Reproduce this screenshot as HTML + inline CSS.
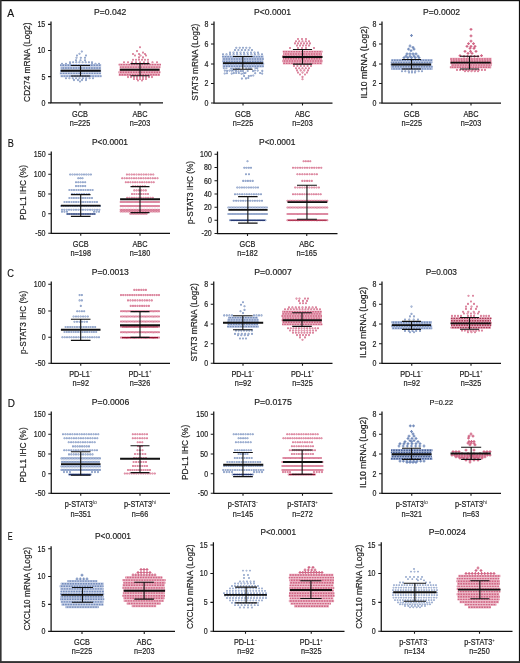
<!DOCTYPE html><html><head><meta charset="utf-8"><style>html,body{margin:0;padding:0;background:#fff;width:520px;height:663px;overflow:hidden}svg{display:block;will-change:transform;font-family:"Liberation Sans",sans-serif}</style></head><body><svg width="520" height="663" viewBox="0 0 520 663">
<rect x="0" y="0" width="520" height="1.2" fill="#111"/><rect x="0" y="0" width="1.6" height="663" fill="#333"/><rect x="518.9" y="0" width="1.1" height="663" fill="#111"/><rect x="0" y="661.1" width="520" height="1.9" fill="#333"/>
<text x="7.30" y="16.50" font-size="11.3" text-anchor="start" fill="#111" stroke="#111" stroke-width="0.15" textLength="6.9" lengthAdjust="spacingAndGlyphs">A</text>
<text x="7.80" y="146.70" font-size="11.3" text-anchor="start" fill="#111" stroke="#111" stroke-width="0.15" textLength="6.1" lengthAdjust="spacingAndGlyphs">B</text>
<text x="7.20" y="276.80" font-size="11.3" text-anchor="start" fill="#111" stroke="#111" stroke-width="0.15" textLength="6.7" lengthAdjust="spacingAndGlyphs">C</text>
<text x="7.80" y="406.70" font-size="11.3" text-anchor="start" fill="#111" stroke="#111" stroke-width="0.15" textLength="7.2" lengthAdjust="spacingAndGlyphs">D</text>
<text x="7.80" y="540.30" font-size="11.3" text-anchor="start" fill="#111" stroke="#111" stroke-width="0.15" textLength="4.9" lengthAdjust="spacingAndGlyphs">E</text>
<path d="M51.00 21.50V102.90H163.00" fill="none" stroke="#111" stroke-width="1.25"/>
<path d="M48.00 24.40H51.00M48.00 50.50H51.00M48.00 76.60H51.00M48.00 102.90H51.00M80.00 102.90V105.40M140.00 102.90V105.40" stroke="#1a1a1a" stroke-width="1.1"/>
<text transform="translate(45.30 27.30) scale(0.83 1)" font-size="8.5" text-anchor="end" fill="#1e1e1e" stroke="#1e1e1e" stroke-width="0.2">15</text>
<text transform="translate(45.30 53.40) scale(0.83 1)" font-size="8.5" text-anchor="end" fill="#1e1e1e" stroke="#1e1e1e" stroke-width="0.2">10</text>
<text transform="translate(45.30 79.50) scale(0.83 1)" font-size="8.5" text-anchor="end" fill="#1e1e1e" stroke="#1e1e1e" stroke-width="0.2">5</text>
<text transform="translate(45.30 105.80) scale(0.83 1)" font-size="8.5" text-anchor="end" fill="#1e1e1e" stroke="#1e1e1e" stroke-width="0.2">0</text>
<text font-size="9.2" text-anchor="middle" fill="#1e1e1e" stroke="#1e1e1e" stroke-width="0.2" textLength="79.4" lengthAdjust="spacingAndGlyphs" transform="translate(30.40 62.20) rotate(-90)">CD274 mRNA (Log2)</text>
<text x="110.15" y="14.50" font-size="9.0" text-anchor="middle" fill="#1e1e1e" stroke="#1e1e1e" stroke-width="0.2" textLength="32.3" lengthAdjust="spacingAndGlyphs">P=0.042</text>
<text transform="translate(80.00 117.00) scale(0.88 1)" font-size="8.3" text-anchor="middle" fill="#1e1e1e" stroke="#1e1e1e" stroke-width="0.2">GCB</text>
<text transform="translate(80.00 126.30) scale(0.88 1)" font-size="8.3" text-anchor="middle" fill="#1e1e1e" stroke="#1e1e1e" stroke-width="0.2">n=225</text>
<text transform="translate(140.00 117.00) scale(0.88 1)" font-size="8.3" text-anchor="middle" fill="#1e1e1e" stroke="#1e1e1e" stroke-width="0.2">ABC</text>
<text transform="translate(140.00 126.30) scale(0.88 1)" font-size="8.3" text-anchor="middle" fill="#1e1e1e" stroke="#1e1e1e" stroke-width="0.2">n=203</text>
<path d="M214.00 21.50V103.00H332.50" fill="none" stroke="#111" stroke-width="1.25"/>
<path d="M211.00 24.25H214.00M211.00 44.00H214.00M211.00 64.00H214.00M211.00 83.50H214.00M211.00 103.00H214.00M243.00 103.00V105.50M302.50 103.00V105.50" stroke="#1a1a1a" stroke-width="1.1"/>
<text transform="translate(208.30 27.15) scale(0.83 1)" font-size="8.5" text-anchor="end" fill="#1e1e1e" stroke="#1e1e1e" stroke-width="0.2">8</text>
<text transform="translate(208.30 46.90) scale(0.83 1)" font-size="8.5" text-anchor="end" fill="#1e1e1e" stroke="#1e1e1e" stroke-width="0.2">6</text>
<text transform="translate(208.30 66.90) scale(0.83 1)" font-size="8.5" text-anchor="end" fill="#1e1e1e" stroke="#1e1e1e" stroke-width="0.2">4</text>
<text transform="translate(208.30 86.40) scale(0.83 1)" font-size="8.5" text-anchor="end" fill="#1e1e1e" stroke="#1e1e1e" stroke-width="0.2">2</text>
<text transform="translate(208.30 105.90) scale(0.83 1)" font-size="8.5" text-anchor="end" fill="#1e1e1e" stroke="#1e1e1e" stroke-width="0.2">0</text>
<text font-size="9.2" text-anchor="middle" fill="#1e1e1e" stroke="#1e1e1e" stroke-width="0.2" textLength="77" lengthAdjust="spacingAndGlyphs" transform="translate(197.70 62.25) rotate(-90)">STAT3 mRNA (Log2)</text>
<text x="272.50" y="15.10" font-size="9.0" text-anchor="middle" fill="#1e1e1e" stroke="#1e1e1e" stroke-width="0.2" textLength="37.0" lengthAdjust="spacingAndGlyphs">P&lt;0.0001</text>
<text transform="translate(243.00 117.00) scale(0.88 1)" font-size="8.3" text-anchor="middle" fill="#1e1e1e" stroke="#1e1e1e" stroke-width="0.2">GCB</text>
<text transform="translate(243.00 126.30) scale(0.88 1)" font-size="8.3" text-anchor="middle" fill="#1e1e1e" stroke="#1e1e1e" stroke-width="0.2">n=225</text>
<text transform="translate(302.50 117.00) scale(0.88 1)" font-size="8.3" text-anchor="middle" fill="#1e1e1e" stroke="#1e1e1e" stroke-width="0.2">ABC</text>
<text transform="translate(302.50 126.30) scale(0.88 1)" font-size="8.3" text-anchor="middle" fill="#1e1e1e" stroke="#1e1e1e" stroke-width="0.2">n=203</text>
<path d="M382.00 21.50V103.00H501.00" fill="none" stroke="#111" stroke-width="1.25"/>
<path d="M379.00 24.25H382.00M379.00 44.00H382.00M379.00 64.00H382.00M379.00 83.50H382.00M379.00 103.00H382.00M411.75 103.00V105.50M471.00 103.00V105.50" stroke="#1a1a1a" stroke-width="1.1"/>
<text transform="translate(376.30 27.15) scale(0.83 1)" font-size="8.5" text-anchor="end" fill="#1e1e1e" stroke="#1e1e1e" stroke-width="0.2">8</text>
<text transform="translate(376.30 46.90) scale(0.83 1)" font-size="8.5" text-anchor="end" fill="#1e1e1e" stroke="#1e1e1e" stroke-width="0.2">6</text>
<text transform="translate(376.30 66.90) scale(0.83 1)" font-size="8.5" text-anchor="end" fill="#1e1e1e" stroke="#1e1e1e" stroke-width="0.2">4</text>
<text transform="translate(376.30 86.40) scale(0.83 1)" font-size="8.5" text-anchor="end" fill="#1e1e1e" stroke="#1e1e1e" stroke-width="0.2">2</text>
<text transform="translate(376.30 105.90) scale(0.83 1)" font-size="8.5" text-anchor="end" fill="#1e1e1e" stroke="#1e1e1e" stroke-width="0.2">0</text>
<text font-size="9.2" text-anchor="middle" fill="#1e1e1e" stroke="#1e1e1e" stroke-width="0.2" textLength="72.4" lengthAdjust="spacingAndGlyphs" transform="translate(366.70 62.25) rotate(-90)">IL10 mRNA (Log2)</text>
<text x="441.50" y="15.10" font-size="9.0" text-anchor="middle" fill="#1e1e1e" stroke="#1e1e1e" stroke-width="0.2" textLength="37.0" lengthAdjust="spacingAndGlyphs">P=0.0002</text>
<text transform="translate(411.75 117.00) scale(0.88 1)" font-size="8.3" text-anchor="middle" fill="#1e1e1e" stroke="#1e1e1e" stroke-width="0.2">GCB</text>
<text transform="translate(411.75 126.30) scale(0.88 1)" font-size="8.3" text-anchor="middle" fill="#1e1e1e" stroke="#1e1e1e" stroke-width="0.2">n=225</text>
<text transform="translate(471.00 117.00) scale(0.88 1)" font-size="8.3" text-anchor="middle" fill="#1e1e1e" stroke="#1e1e1e" stroke-width="0.2">ABC</text>
<text transform="translate(471.00 126.30) scale(0.88 1)" font-size="8.3" text-anchor="middle" fill="#1e1e1e" stroke="#1e1e1e" stroke-width="0.2">n=203</text>
<path d="M51.25 151.50V233.25H170.00" fill="none" stroke="#111" stroke-width="1.25"/>
<path d="M48.25 154.25H51.25M48.25 174.25H51.25M48.25 194.00H51.25M48.25 213.75H51.25M48.25 233.25H51.25M80.75 233.25V235.75M140.00 233.25V235.75" stroke="#1a1a1a" stroke-width="1.1"/>
<text transform="translate(45.55 157.15) scale(0.83 1)" font-size="8.5" text-anchor="end" fill="#1e1e1e" stroke="#1e1e1e" stroke-width="0.2">150</text>
<text transform="translate(45.55 177.15) scale(0.83 1)" font-size="8.5" text-anchor="end" fill="#1e1e1e" stroke="#1e1e1e" stroke-width="0.2">100</text>
<text transform="translate(45.55 196.90) scale(0.83 1)" font-size="8.5" text-anchor="end" fill="#1e1e1e" stroke="#1e1e1e" stroke-width="0.2">50</text>
<text transform="translate(45.55 216.65) scale(0.83 1)" font-size="8.5" text-anchor="end" fill="#1e1e1e" stroke="#1e1e1e" stroke-width="0.2">0</text>
<text transform="translate(45.55 236.15) scale(0.83 1)" font-size="8.5" text-anchor="end" fill="#1e1e1e" stroke="#1e1e1e" stroke-width="0.2">-50</text>
<text font-size="9.2" text-anchor="middle" fill="#1e1e1e" stroke="#1e1e1e" stroke-width="0.2" textLength="55" lengthAdjust="spacingAndGlyphs" transform="translate(25.60 192.38) rotate(-90)">PD-L1 IHC (%)</text>
<text x="110.00" y="144.85" font-size="9.0" text-anchor="middle" fill="#1e1e1e" stroke="#1e1e1e" stroke-width="0.2" textLength="36.0" lengthAdjust="spacingAndGlyphs">P&lt;0.0001</text>
<text transform="translate(80.75 246.75) scale(0.88 1)" font-size="8.3" text-anchor="middle" fill="#1e1e1e" stroke="#1e1e1e" stroke-width="0.2">GCB</text>
<text transform="translate(80.75 256.30) scale(0.88 1)" font-size="8.3" text-anchor="middle" fill="#1e1e1e" stroke="#1e1e1e" stroke-width="0.2">n=198</text>
<text transform="translate(140.00 246.75) scale(0.88 1)" font-size="8.3" text-anchor="middle" fill="#1e1e1e" stroke="#1e1e1e" stroke-width="0.2">ABC</text>
<text transform="translate(140.00 256.30) scale(0.88 1)" font-size="8.3" text-anchor="middle" fill="#1e1e1e" stroke="#1e1e1e" stroke-width="0.2">n=180</text>
<path d="M217.50 151.50V233.50H337.50" fill="none" stroke="#111" stroke-width="1.25"/>
<path d="M214.50 154.25H217.50M214.50 167.50H217.50M214.50 180.75H217.50M214.50 194.00H217.50M214.50 207.25H217.50M214.50 220.25H217.50M214.50 233.50H217.50M247.50 233.50V236.00M306.75 233.50V236.00" stroke="#1a1a1a" stroke-width="1.1"/>
<text transform="translate(211.80 157.15) scale(0.83 1)" font-size="8.5" text-anchor="end" fill="#1e1e1e" stroke="#1e1e1e" stroke-width="0.2">100</text>
<text transform="translate(211.80 170.40) scale(0.83 1)" font-size="8.5" text-anchor="end" fill="#1e1e1e" stroke="#1e1e1e" stroke-width="0.2">80</text>
<text transform="translate(211.80 183.65) scale(0.83 1)" font-size="8.5" text-anchor="end" fill="#1e1e1e" stroke="#1e1e1e" stroke-width="0.2">60</text>
<text transform="translate(211.80 196.90) scale(0.83 1)" font-size="8.5" text-anchor="end" fill="#1e1e1e" stroke="#1e1e1e" stroke-width="0.2">40</text>
<text transform="translate(211.80 210.15) scale(0.83 1)" font-size="8.5" text-anchor="end" fill="#1e1e1e" stroke="#1e1e1e" stroke-width="0.2">20</text>
<text transform="translate(211.80 223.15) scale(0.83 1)" font-size="8.5" text-anchor="end" fill="#1e1e1e" stroke="#1e1e1e" stroke-width="0.2">0</text>
<text transform="translate(211.80 236.40) scale(0.83 1)" font-size="8.5" text-anchor="end" fill="#1e1e1e" stroke="#1e1e1e" stroke-width="0.2">-20</text>
<text font-size="9.2" text-anchor="middle" fill="#1e1e1e" stroke="#1e1e1e" stroke-width="0.2" textLength="63" lengthAdjust="spacingAndGlyphs" transform="translate(193.00 192.50) rotate(-90)">p-STAT3 IHC (%)</text>
<text x="277.25" y="144.85" font-size="9.0" text-anchor="middle" fill="#1e1e1e" stroke="#1e1e1e" stroke-width="0.2" textLength="36.5" lengthAdjust="spacingAndGlyphs">P&lt;0.0001</text>
<text transform="translate(247.50 246.75) scale(0.88 1)" font-size="8.3" text-anchor="middle" fill="#1e1e1e" stroke="#1e1e1e" stroke-width="0.2">GCB</text>
<text transform="translate(247.50 256.30) scale(0.88 1)" font-size="8.3" text-anchor="middle" fill="#1e1e1e" stroke="#1e1e1e" stroke-width="0.2">n=182</text>
<text transform="translate(306.75 246.75) scale(0.88 1)" font-size="8.3" text-anchor="middle" fill="#1e1e1e" stroke="#1e1e1e" stroke-width="0.2">ABC</text>
<text transform="translate(306.75 256.30) scale(0.88 1)" font-size="8.3" text-anchor="middle" fill="#1e1e1e" stroke="#1e1e1e" stroke-width="0.2">n=165</text>
<path d="M51.25 281.50V363.25H170.00" fill="none" stroke="#111" stroke-width="1.25"/>
<path d="M48.25 284.25H51.25M48.25 311.00H51.25M48.25 337.25H51.25M48.25 363.25H51.25M80.75 363.25V365.75M140.00 363.25V365.75" stroke="#1a1a1a" stroke-width="1.1"/>
<text transform="translate(45.55 287.15) scale(0.83 1)" font-size="8.5" text-anchor="end" fill="#1e1e1e" stroke="#1e1e1e" stroke-width="0.2">100</text>
<text transform="translate(45.55 313.90) scale(0.83 1)" font-size="8.5" text-anchor="end" fill="#1e1e1e" stroke="#1e1e1e" stroke-width="0.2">50</text>
<text transform="translate(45.55 340.15) scale(0.83 1)" font-size="8.5" text-anchor="end" fill="#1e1e1e" stroke="#1e1e1e" stroke-width="0.2">0</text>
<text transform="translate(45.55 366.15) scale(0.83 1)" font-size="8.5" text-anchor="end" fill="#1e1e1e" stroke="#1e1e1e" stroke-width="0.2">-50</text>
<text font-size="9.2" text-anchor="middle" fill="#1e1e1e" stroke="#1e1e1e" stroke-width="0.2" textLength="63.2" lengthAdjust="spacingAndGlyphs" transform="translate(26.20 322.38) rotate(-90)">p-STAT3 IHC (%)</text>
<text x="110.25" y="275.10" font-size="9.0" text-anchor="middle" fill="#1e1e1e" stroke="#1e1e1e" stroke-width="0.2" textLength="37.0" lengthAdjust="spacingAndGlyphs">P=0.0013</text>
<text transform="translate(80.75 376.75) scale(0.88 1)" font-size="8.3" text-anchor="middle" fill="#1e1e1e" stroke="#1e1e1e" stroke-width="0.2">PD-L1<tspan font-size="4.8" dy="-3.4" stroke-width="0">−</tspan></text>
<text transform="translate(80.75 386.30) scale(0.88 1)" font-size="8.3" text-anchor="middle" fill="#1e1e1e" stroke="#1e1e1e" stroke-width="0.2">n=92</text>
<text transform="translate(140.00 376.75) scale(0.88 1)" font-size="8.3" text-anchor="middle" fill="#1e1e1e" stroke="#1e1e1e" stroke-width="0.2">PD-L1<tspan font-size="4.8" dy="-3.4" stroke-width="0">+</tspan></text>
<text transform="translate(140.00 386.30) scale(0.88 1)" font-size="8.3" text-anchor="middle" fill="#1e1e1e" stroke="#1e1e1e" stroke-width="0.2">n=326</text>
<path d="M213.75 281.50V363.25H332.50" fill="none" stroke="#111" stroke-width="1.25"/>
<path d="M210.75 284.25H213.75M210.75 304.25H213.75M210.75 324.00H213.75M210.75 343.75H213.75M210.75 363.25H213.75M243.00 363.25V365.75M302.50 363.25V365.75" stroke="#1a1a1a" stroke-width="1.1"/>
<text transform="translate(208.05 287.15) scale(0.83 1)" font-size="8.5" text-anchor="end" fill="#1e1e1e" stroke="#1e1e1e" stroke-width="0.2">8</text>
<text transform="translate(208.05 307.15) scale(0.83 1)" font-size="8.5" text-anchor="end" fill="#1e1e1e" stroke="#1e1e1e" stroke-width="0.2">6</text>
<text transform="translate(208.05 326.90) scale(0.83 1)" font-size="8.5" text-anchor="end" fill="#1e1e1e" stroke="#1e1e1e" stroke-width="0.2">4</text>
<text transform="translate(208.05 346.65) scale(0.83 1)" font-size="8.5" text-anchor="end" fill="#1e1e1e" stroke="#1e1e1e" stroke-width="0.2">2</text>
<text transform="translate(208.05 366.15) scale(0.83 1)" font-size="8.5" text-anchor="end" fill="#1e1e1e" stroke="#1e1e1e" stroke-width="0.2">0</text>
<text font-size="9.2" text-anchor="middle" fill="#1e1e1e" stroke="#1e1e1e" stroke-width="0.2" textLength="78.2" lengthAdjust="spacingAndGlyphs" transform="translate(196.80 322.38) rotate(-90)">STAT3 mRNA (Log2)</text>
<text x="273.00" y="275.10" font-size="9.0" text-anchor="middle" fill="#1e1e1e" stroke="#1e1e1e" stroke-width="0.2" textLength="37.5" lengthAdjust="spacingAndGlyphs">P=0.0007</text>
<text transform="translate(243.00 376.75) scale(0.88 1)" font-size="8.3" text-anchor="middle" fill="#1e1e1e" stroke="#1e1e1e" stroke-width="0.2">PD-L1<tspan font-size="4.8" dy="-3.4" stroke-width="0">−</tspan></text>
<text transform="translate(243.00 386.30) scale(0.88 1)" font-size="8.3" text-anchor="middle" fill="#1e1e1e" stroke="#1e1e1e" stroke-width="0.2">n=92</text>
<text transform="translate(302.50 376.75) scale(0.88 1)" font-size="8.3" text-anchor="middle" fill="#1e1e1e" stroke="#1e1e1e" stroke-width="0.2">PD-L1<tspan font-size="4.8" dy="-3.4" stroke-width="0">+</tspan></text>
<text transform="translate(302.50 386.30) scale(0.88 1)" font-size="8.3" text-anchor="middle" fill="#1e1e1e" stroke="#1e1e1e" stroke-width="0.2">n=325</text>
<path d="M382.00 281.50V363.25H501.00" fill="none" stroke="#111" stroke-width="1.25"/>
<path d="M379.00 284.25H382.00M379.00 304.25H382.00M379.00 324.00H382.00M379.00 343.75H382.00M379.00 363.25H382.00M411.75 363.25V365.75M471.00 363.25V365.75" stroke="#1a1a1a" stroke-width="1.1"/>
<text transform="translate(376.30 287.15) scale(0.83 1)" font-size="8.5" text-anchor="end" fill="#1e1e1e" stroke="#1e1e1e" stroke-width="0.2">8</text>
<text transform="translate(376.30 307.15) scale(0.83 1)" font-size="8.5" text-anchor="end" fill="#1e1e1e" stroke="#1e1e1e" stroke-width="0.2">6</text>
<text transform="translate(376.30 326.90) scale(0.83 1)" font-size="8.5" text-anchor="end" fill="#1e1e1e" stroke="#1e1e1e" stroke-width="0.2">4</text>
<text transform="translate(376.30 346.65) scale(0.83 1)" font-size="8.5" text-anchor="end" fill="#1e1e1e" stroke="#1e1e1e" stroke-width="0.2">2</text>
<text transform="translate(376.30 366.15) scale(0.83 1)" font-size="8.5" text-anchor="end" fill="#1e1e1e" stroke="#1e1e1e" stroke-width="0.2">0</text>
<text font-size="9.2" text-anchor="middle" fill="#1e1e1e" stroke="#1e1e1e" stroke-width="0.2" textLength="71.2" lengthAdjust="spacingAndGlyphs" transform="translate(366.20 322.38) rotate(-90)">IL10 mRNA (Log2)</text>
<text x="441.38" y="275.10" font-size="9.0" text-anchor="middle" fill="#1e1e1e" stroke="#1e1e1e" stroke-width="0.2" textLength="31.2" lengthAdjust="spacingAndGlyphs">P=0.003</text>
<text transform="translate(411.75 376.75) scale(0.88 1)" font-size="8.3" text-anchor="middle" fill="#1e1e1e" stroke="#1e1e1e" stroke-width="0.2">PD-L1<tspan font-size="4.8" dy="-3.4" stroke-width="0">−</tspan></text>
<text transform="translate(411.75 386.30) scale(0.88 1)" font-size="8.3" text-anchor="middle" fill="#1e1e1e" stroke="#1e1e1e" stroke-width="0.2">n=92</text>
<text transform="translate(471.00 376.75) scale(0.88 1)" font-size="8.3" text-anchor="middle" fill="#1e1e1e" stroke="#1e1e1e" stroke-width="0.2">PD-L1<tspan font-size="4.8" dy="-3.4" stroke-width="0">+</tspan></text>
<text transform="translate(471.00 386.30) scale(0.88 1)" font-size="8.3" text-anchor="middle" fill="#1e1e1e" stroke="#1e1e1e" stroke-width="0.2">n=325</text>
<path d="M51.25 411.50V493.25H170.00" fill="none" stroke="#111" stroke-width="1.25"/>
<path d="M48.25 414.25H51.25M48.25 434.25H51.25M48.25 454.00H51.25M48.25 473.75H51.25M48.25 493.25H51.25M80.75 493.25V495.75M140.00 493.25V495.75" stroke="#1a1a1a" stroke-width="1.1"/>
<text transform="translate(45.55 417.15) scale(0.83 1)" font-size="8.5" text-anchor="end" fill="#1e1e1e" stroke="#1e1e1e" stroke-width="0.2">150</text>
<text transform="translate(45.55 437.15) scale(0.83 1)" font-size="8.5" text-anchor="end" fill="#1e1e1e" stroke="#1e1e1e" stroke-width="0.2">100</text>
<text transform="translate(45.55 456.90) scale(0.83 1)" font-size="8.5" text-anchor="end" fill="#1e1e1e" stroke="#1e1e1e" stroke-width="0.2">50</text>
<text transform="translate(45.55 476.65) scale(0.83 1)" font-size="8.5" text-anchor="end" fill="#1e1e1e" stroke="#1e1e1e" stroke-width="0.2">0</text>
<text transform="translate(45.55 496.15) scale(0.83 1)" font-size="8.5" text-anchor="end" fill="#1e1e1e" stroke="#1e1e1e" stroke-width="0.2">-50</text>
<text font-size="9.2" text-anchor="middle" fill="#1e1e1e" stroke="#1e1e1e" stroke-width="0.2" textLength="55.1" lengthAdjust="spacingAndGlyphs" transform="translate(25.60 454.90) rotate(-90)">PD-L1 IHC (%)</text>
<text x="110.50" y="405.10" font-size="9.0" text-anchor="middle" fill="#1e1e1e" stroke="#1e1e1e" stroke-width="0.2" textLength="37.5" lengthAdjust="spacingAndGlyphs">P=0.0006</text>
<text transform="translate(80.75 507.00) scale(0.88 1)" font-size="8.3" text-anchor="middle" fill="#1e1e1e" stroke="#1e1e1e" stroke-width="0.2">p-STAT3<tspan font-size="5.8" dy="-3.0" stroke-width="0">lo</tspan></text>
<text transform="translate(80.75 516.80) scale(0.88 1)" font-size="8.3" text-anchor="middle" fill="#1e1e1e" stroke="#1e1e1e" stroke-width="0.2">n=351</text>
<text transform="translate(140.00 507.00) scale(0.88 1)" font-size="8.3" text-anchor="middle" fill="#1e1e1e" stroke="#1e1e1e" stroke-width="0.2">p-STAT3<tspan font-size="5.8" dy="-3.0" stroke-width="0">hi</tspan></text>
<text transform="translate(140.00 516.80) scale(0.88 1)" font-size="8.3" text-anchor="middle" fill="#1e1e1e" stroke="#1e1e1e" stroke-width="0.2">n=66</text>
<path d="M213.75 411.50V493.25H332.50" fill="none" stroke="#111" stroke-width="1.25"/>
<path d="M210.75 414.25H213.75M210.75 434.25H213.75M210.75 454.00H213.75M210.75 473.75H213.75M210.75 493.25H213.75M243.00 493.25V495.75M302.50 493.25V495.75" stroke="#1a1a1a" stroke-width="1.1"/>
<text transform="translate(208.05 417.15) scale(0.83 1)" font-size="8.5" text-anchor="end" fill="#1e1e1e" stroke="#1e1e1e" stroke-width="0.2">150</text>
<text transform="translate(208.05 437.15) scale(0.83 1)" font-size="8.5" text-anchor="end" fill="#1e1e1e" stroke="#1e1e1e" stroke-width="0.2">100</text>
<text transform="translate(208.05 456.90) scale(0.83 1)" font-size="8.5" text-anchor="end" fill="#1e1e1e" stroke="#1e1e1e" stroke-width="0.2">50</text>
<text transform="translate(208.05 476.65) scale(0.83 1)" font-size="8.5" text-anchor="end" fill="#1e1e1e" stroke="#1e1e1e" stroke-width="0.2">0</text>
<text transform="translate(208.05 496.15) scale(0.83 1)" font-size="8.5" text-anchor="end" fill="#1e1e1e" stroke="#1e1e1e" stroke-width="0.2">-50</text>
<text font-size="9.2" text-anchor="middle" fill="#1e1e1e" stroke="#1e1e1e" stroke-width="0.2" textLength="55.2" lengthAdjust="spacingAndGlyphs" transform="translate(188.00 452.38) rotate(-90)">PD-L1 IHC (%)</text>
<text x="273.00" y="405.10" font-size="9.0" text-anchor="middle" fill="#1e1e1e" stroke="#1e1e1e" stroke-width="0.2" textLength="37.5" lengthAdjust="spacingAndGlyphs">P=0.0175</text>
<text transform="translate(243.00 507.00) scale(0.88 1)" font-size="8.3" text-anchor="middle" fill="#1e1e1e" stroke="#1e1e1e" stroke-width="0.2">p-STAT3<tspan font-size="4.8" dy="-3.4" stroke-width="0">−</tspan></text>
<text transform="translate(243.00 516.80) scale(0.88 1)" font-size="8.3" text-anchor="middle" fill="#1e1e1e" stroke="#1e1e1e" stroke-width="0.2">n=145</text>
<text transform="translate(302.50 507.00) scale(0.88 1)" font-size="8.3" text-anchor="middle" fill="#1e1e1e" stroke="#1e1e1e" stroke-width="0.2">p-STAT3<tspan font-size="4.8" dy="-3.4" stroke-width="0">+</tspan></text>
<text transform="translate(302.50 516.80) scale(0.88 1)" font-size="8.3" text-anchor="middle" fill="#1e1e1e" stroke="#1e1e1e" stroke-width="0.2">n=272</text>
<path d="M382.00 411.50V493.25H501.00" fill="none" stroke="#111" stroke-width="1.25"/>
<path d="M379.00 414.25H382.00M379.00 434.25H382.00M379.00 454.00H382.00M379.00 473.75H382.00M379.00 493.25H382.00M411.75 493.25V495.75M471.00 493.25V495.75" stroke="#1a1a1a" stroke-width="1.1"/>
<text transform="translate(376.30 417.15) scale(0.83 1)" font-size="8.5" text-anchor="end" fill="#1e1e1e" stroke="#1e1e1e" stroke-width="0.2">8</text>
<text transform="translate(376.30 437.15) scale(0.83 1)" font-size="8.5" text-anchor="end" fill="#1e1e1e" stroke="#1e1e1e" stroke-width="0.2">6</text>
<text transform="translate(376.30 456.90) scale(0.83 1)" font-size="8.5" text-anchor="end" fill="#1e1e1e" stroke="#1e1e1e" stroke-width="0.2">4</text>
<text transform="translate(376.30 476.65) scale(0.83 1)" font-size="8.5" text-anchor="end" fill="#1e1e1e" stroke="#1e1e1e" stroke-width="0.2">2</text>
<text transform="translate(376.30 496.15) scale(0.83 1)" font-size="8.5" text-anchor="end" fill="#1e1e1e" stroke="#1e1e1e" stroke-width="0.2">0</text>
<text font-size="9.2" text-anchor="middle" fill="#1e1e1e" stroke="#1e1e1e" stroke-width="0.2" textLength="71.2" lengthAdjust="spacingAndGlyphs" transform="translate(366.00 452.38) rotate(-90)">IL10 mRNA (Log2)</text>
<text x="441.25" y="405.10" font-size="7.2" text-anchor="middle" fill="#1e1e1e" stroke="#1e1e1e" stroke-width="0.2" textLength="23.5" lengthAdjust="spacingAndGlyphs">P=0.22</text>
<text transform="translate(411.75 507.00) scale(0.88 1)" font-size="8.3" text-anchor="middle" fill="#1e1e1e" stroke="#1e1e1e" stroke-width="0.2">p-STAT3<tspan font-size="5.8" dy="-3.0" stroke-width="0">lo</tspan></text>
<text transform="translate(411.75 516.80) scale(0.88 1)" font-size="8.3" text-anchor="middle" fill="#1e1e1e" stroke="#1e1e1e" stroke-width="0.2">n=321</text>
<text transform="translate(471.00 507.00) scale(0.88 1)" font-size="8.3" text-anchor="middle" fill="#1e1e1e" stroke="#1e1e1e" stroke-width="0.2">p-STAT3<tspan font-size="5.8" dy="-3.0" stroke-width="0">hi</tspan></text>
<text transform="translate(471.00 516.80) scale(0.88 1)" font-size="8.3" text-anchor="middle" fill="#1e1e1e" stroke="#1e1e1e" stroke-width="0.2">n=63</text>
<path d="M51.10 546.30V631.40H175.00" fill="none" stroke="#111" stroke-width="1.25"/>
<path d="M48.10 548.75H51.10M48.10 576.50H51.10M48.10 604.40H51.10M48.10 631.40H51.10M82.00 631.40V633.90M144.25 631.40V633.90" stroke="#1a1a1a" stroke-width="1.1"/>
<text transform="translate(45.40 551.65) scale(0.83 1)" font-size="8.5" text-anchor="end" fill="#1e1e1e" stroke="#1e1e1e" stroke-width="0.2">15</text>
<text transform="translate(45.40 579.40) scale(0.83 1)" font-size="8.5" text-anchor="end" fill="#1e1e1e" stroke="#1e1e1e" stroke-width="0.2">10</text>
<text transform="translate(45.40 607.30) scale(0.83 1)" font-size="8.5" text-anchor="end" fill="#1e1e1e" stroke="#1e1e1e" stroke-width="0.2">5</text>
<text transform="translate(45.40 634.30) scale(0.83 1)" font-size="8.5" text-anchor="end" fill="#1e1e1e" stroke="#1e1e1e" stroke-width="0.2">0</text>
<text font-size="9.2" text-anchor="middle" fill="#1e1e1e" stroke="#1e1e1e" stroke-width="0.2" textLength="83.5" lengthAdjust="spacingAndGlyphs" transform="translate(30.20 588.85) rotate(-90)">CXCL10 mRNA (Log2)</text>
<text x="113.00" y="538.60" font-size="9.0" text-anchor="middle" fill="#1e1e1e" stroke="#1e1e1e" stroke-width="0.2" textLength="36.0" lengthAdjust="spacingAndGlyphs">P&lt;0.0001</text>
<text transform="translate(82.00 645.00) scale(0.88 1)" font-size="8.3" text-anchor="middle" fill="#1e1e1e" stroke="#1e1e1e" stroke-width="0.2">GCB</text>
<text transform="translate(82.00 654.30) scale(0.88 1)" font-size="8.3" text-anchor="middle" fill="#1e1e1e" stroke="#1e1e1e" stroke-width="0.2">n=225</text>
<text transform="translate(144.25 645.00) scale(0.88 1)" font-size="8.3" text-anchor="middle" fill="#1e1e1e" stroke="#1e1e1e" stroke-width="0.2">ABC</text>
<text transform="translate(144.25 654.30) scale(0.88 1)" font-size="8.3" text-anchor="middle" fill="#1e1e1e" stroke="#1e1e1e" stroke-width="0.2">n=203</text>
<path d="M213.40 542.30V631.25H344.50" fill="none" stroke="#111" stroke-width="1.25"/>
<path d="M210.40 545.00H213.40M210.40 573.50H213.40M210.40 602.40H213.40M210.40 631.25H213.40M245.50 631.25V633.75M311.25 631.25V633.75" stroke="#1a1a1a" stroke-width="1.1"/>
<text transform="translate(207.70 547.90) scale(0.83 1)" font-size="8.5" text-anchor="end" fill="#1e1e1e" stroke="#1e1e1e" stroke-width="0.2">15</text>
<text transform="translate(207.70 576.40) scale(0.83 1)" font-size="8.5" text-anchor="end" fill="#1e1e1e" stroke="#1e1e1e" stroke-width="0.2">10</text>
<text transform="translate(207.70 605.30) scale(0.83 1)" font-size="8.5" text-anchor="end" fill="#1e1e1e" stroke="#1e1e1e" stroke-width="0.2">5</text>
<text transform="translate(207.70 634.15) scale(0.83 1)" font-size="8.5" text-anchor="end" fill="#1e1e1e" stroke="#1e1e1e" stroke-width="0.2">0</text>
<text font-size="9.2" text-anchor="middle" fill="#1e1e1e" stroke="#1e1e1e" stroke-width="0.2" textLength="84.5" lengthAdjust="spacingAndGlyphs" transform="translate(193.20 586.77) rotate(-90)">CXCL10 mRNA (Log2)</text>
<text x="278.25" y="534.85" font-size="9.0" text-anchor="middle" fill="#1e1e1e" stroke="#1e1e1e" stroke-width="0.2" textLength="35.5" lengthAdjust="spacingAndGlyphs">P&lt;0.0001</text>
<text transform="translate(245.50 645.00) scale(0.88 1)" font-size="8.3" text-anchor="middle" fill="#1e1e1e" stroke="#1e1e1e" stroke-width="0.2">PD-L1<tspan font-size="4.8" dy="-3.4" stroke-width="0">−</tspan></text>
<text transform="translate(245.50 654.30) scale(0.88 1)" font-size="8.3" text-anchor="middle" fill="#1e1e1e" stroke="#1e1e1e" stroke-width="0.2">n=92</text>
<text transform="translate(311.25 645.00) scale(0.88 1)" font-size="8.3" text-anchor="middle" fill="#1e1e1e" stroke="#1e1e1e" stroke-width="0.2">PD-L1<tspan font-size="4.8" dy="-3.4" stroke-width="0">+</tspan></text>
<text transform="translate(311.25 654.30) scale(0.88 1)" font-size="8.3" text-anchor="middle" fill="#1e1e1e" stroke="#1e1e1e" stroke-width="0.2">n=325</text>
<path d="M381.25 542.30V631.25H512.50" fill="none" stroke="#111" stroke-width="1.25"/>
<path d="M378.25 545.00H381.25M378.25 573.50H381.25M378.25 602.40H381.25M378.25 631.25H381.25M414.50 631.25V633.75M479.50 631.25V633.75" stroke="#1a1a1a" stroke-width="1.1"/>
<text transform="translate(375.55 547.90) scale(0.83 1)" font-size="8.5" text-anchor="end" fill="#1e1e1e" stroke="#1e1e1e" stroke-width="0.2">15</text>
<text transform="translate(375.55 576.40) scale(0.83 1)" font-size="8.5" text-anchor="end" fill="#1e1e1e" stroke="#1e1e1e" stroke-width="0.2">10</text>
<text transform="translate(375.55 605.30) scale(0.83 1)" font-size="8.5" text-anchor="end" fill="#1e1e1e" stroke="#1e1e1e" stroke-width="0.2">5</text>
<text transform="translate(375.55 634.15) scale(0.83 1)" font-size="8.5" text-anchor="end" fill="#1e1e1e" stroke="#1e1e1e" stroke-width="0.2">0</text>
<text font-size="9.2" text-anchor="middle" fill="#1e1e1e" stroke="#1e1e1e" stroke-width="0.2" textLength="84.2" lengthAdjust="spacingAndGlyphs" transform="translate(362.10 586.77) rotate(-90)">CXCL10 mRNA (Log2)</text>
<text x="447.25" y="534.85" font-size="9.0" text-anchor="middle" fill="#1e1e1e" stroke="#1e1e1e" stroke-width="0.2" textLength="37.0" lengthAdjust="spacingAndGlyphs">P=0.0024</text>
<text transform="translate(414.50 645.00) scale(0.88 1)" font-size="8.3" text-anchor="middle" fill="#1e1e1e" stroke="#1e1e1e" stroke-width="0.2">p-STAT3<tspan font-size="4.8" dy="-3.4" stroke-width="0">−</tspan></text>
<text transform="translate(414.50 654.30) scale(0.88 1)" font-size="8.3" text-anchor="middle" fill="#1e1e1e" stroke="#1e1e1e" stroke-width="0.2">n=134</text>
<text transform="translate(479.50 645.00) scale(0.88 1)" font-size="8.3" text-anchor="middle" fill="#1e1e1e" stroke="#1e1e1e" stroke-width="0.2">p-STAT3<tspan font-size="4.8" dy="-3.4" stroke-width="0">+</tspan></text>
<text transform="translate(479.50 654.30) scale(0.88 1)" font-size="8.3" text-anchor="middle" fill="#1e1e1e" stroke="#1e1e1e" stroke-width="0.2">n=250</text>
<path d="M81.8 51.5h0M79.5 53.7h0M77.0 55.5h0M86.0 55.5h0M76.5 57.7h0M80.8 57.7h0M85.0 57.7h0M76.0 60.2h0M80.5 60.2h0M85.0 60.2h0M70.0 62.3h0M73.1 62.3h0M76.3 62.3h0M79.4 62.3h0M82.6 62.3h0M85.7 62.3h0M88.9 62.3h0M92.0 62.3h0M62.0 63.8h0M66.0 63.8h0M70.0 63.8h0M92.0 63.8h0M95.5 63.8h0M99.0 63.8h0M66.0 78.3h0M69.4 78.3h0M72.8 78.3h0M76.1 78.3h0M79.5 78.3h0M82.9 78.3h0M86.2 78.3h0M89.6 78.3h0M93.0 78.3h0M74.0 80.1h0M78.0 80.1h0M82.0 80.1h0M86.0 80.1h0M80.0 81.5h0" stroke="#6f88b8" stroke-opacity="0.9" stroke-width="2.1" stroke-linecap="round"/>
<path d="M81.8 51.5h0M79.5 53.7h0M77.0 55.5h0M86.0 55.5h0M76.5 57.7h0M80.8 57.7h0M85.0 57.7h0M76.0 60.2h0M80.5 60.2h0M85.0 60.2h0M70.0 62.3h0M73.1 62.3h0M76.3 62.3h0M79.4 62.3h0M82.6 62.3h0M85.7 62.3h0M88.9 62.3h0M92.0 62.3h0M62.0 63.8h0M66.0 63.8h0M70.0 63.8h0M92.0 63.8h0M95.5 63.8h0M99.0 63.8h0M66.0 78.3h0M69.4 78.3h0M72.8 78.3h0M76.1 78.3h0M79.5 78.3h0M82.9 78.3h0M86.2 78.3h0M89.6 78.3h0M93.0 78.3h0M74.0 80.1h0M78.0 80.1h0M82.0 80.1h0M86.0 80.1h0M80.0 81.5h0" stroke="#bcc8e2" stroke-width="1.0" stroke-linecap="round"/>
<path d="M60.1 65.3H101.2M60.7 68.0H101.1M60.2 70.7H101.2M59.8 73.4H101.1M60.4 76.1H101.5" stroke="#bcc8e2" stroke-width="2.4"/>
<g stroke="#6f88b8" stroke-opacity="0.95" stroke-width="1.4" stroke-dasharray="1.6 1.0"><path d="M60.1 65.3H101.2" stroke-dashoffset="0.3"/><path d="M60.7 68.0H101.1" stroke-dashoffset="0.8"/><path d="M60.2 70.7H101.2" stroke-dashoffset="0.2"/><path d="M59.8 73.4H101.1" stroke-dashoffset="2.2"/><path d="M60.4 76.1H101.5" stroke-dashoffset="1.9"/></g>
<path d="M60.80 70.80H100.70" stroke="#111" stroke-width="1.9"/>
<path d="M80.50 65.50V76.00M70.90 65.50H90.10M70.90 76.00H90.10" stroke="#111" stroke-width="1.1"/>
<path d="M140.0 47.3h0M137.0 51.1h0M143.0 52.6h0M133.0 54.0h0M139.0 54.0h0M145.0 54.0h0M135.0 55.5h0M140.5 55.5h0M146.0 55.5h0M139.0 57.4h0M143.0 57.4h0M133.0 59.8h0M136.0 59.8h0M139.0 59.8h0M142.0 59.8h0M145.0 59.8h0M148.0 59.8h0M124.0 62.2h0M128.0 62.2h0M132.0 62.2h0M148.0 62.2h0M152.5 62.2h0M157.0 62.2h0M136.0 62.2h0M140.0 62.2h0M144.0 62.2h0M128.0 77.1h0M131.0 77.1h0M134.0 77.1h0M137.0 77.1h0M140.0 77.1h0M143.0 77.1h0M146.0 77.1h0M149.0 77.1h0M152.0 77.1h0M134.0 79.0h0M137.0 79.0h0M140.0 79.0h0M143.0 79.0h0M146.0 79.0h0M138.0 80.5h0M142.0 80.5h0" stroke="#cf5f7f" stroke-opacity="0.9" stroke-width="2.1" stroke-linecap="round"/>
<path d="M140.0 47.3h0M137.0 51.1h0M143.0 52.6h0M133.0 54.0h0M139.0 54.0h0M145.0 54.0h0M135.0 55.5h0M140.5 55.5h0M146.0 55.5h0M139.0 57.4h0M143.0 57.4h0M133.0 59.8h0M136.0 59.8h0M139.0 59.8h0M142.0 59.8h0M145.0 59.8h0M148.0 59.8h0M124.0 62.2h0M128.0 62.2h0M132.0 62.2h0M148.0 62.2h0M152.5 62.2h0M157.0 62.2h0M136.0 62.2h0M140.0 62.2h0M144.0 62.2h0M128.0 77.1h0M131.0 77.1h0M134.0 77.1h0M137.0 77.1h0M140.0 77.1h0M143.0 77.1h0M146.0 77.1h0M149.0 77.1h0M152.0 77.1h0M134.0 79.0h0M137.0 79.0h0M140.0 79.0h0M143.0 79.0h0M146.0 79.0h0M138.0 80.5h0M142.0 80.5h0" stroke="#e9adbe" stroke-width="1.0" stroke-linecap="round"/>
<path d="M118.7 64.6H160.9M119.8 67.1H160.5M119.3 69.7H159.9M118.6 72.2H160.3M118.7 74.8H159.9" stroke="#e9adbe" stroke-width="2.4"/>
<g stroke="#cf5f7f" stroke-opacity="0.95" stroke-width="1.4" stroke-dasharray="1.6 1.0"><path d="M118.7 64.6H160.9" stroke-dashoffset="0.7"/><path d="M119.8 67.1H160.5" stroke-dashoffset="0.1"/><path d="M119.3 69.7H159.9" stroke-dashoffset="1.3"/><path d="M118.6 72.2H160.3" stroke-dashoffset="1.2"/><path d="M118.7 74.8H159.9" stroke-dashoffset="2.3"/></g>
<path d="M120.00 69.70H159.50" stroke="#111" stroke-width="1.9"/>
<path d="M140.00 63.60V75.70M130.50 63.60H149.50M130.50 75.70H149.50" stroke="#111" stroke-width="1.1"/>
<path d="M236.3 47.7h0M239.7 47.7h0M243.0 47.7h0M246.3 47.7h0M249.7 47.7h0M235.0 50.1h0M238.4 50.1h0M241.8 50.1h0M245.2 50.1h0M248.6 50.1h0M252.0 50.1h0M230.0 52.5h0M233.5 52.5h0M237.0 52.5h0M240.5 52.5h0M244.0 52.5h0M247.5 52.5h0M251.0 52.5h0M254.5 52.5h0M258.0 52.5h0M223.0 54.4h0M226.5 54.4h0M230.1 54.4h0M233.6 54.4h0M237.2 54.4h0M240.7 54.4h0M244.3 54.4h0M247.8 54.4h0M251.4 54.4h0M254.9 54.4h0M258.5 54.4h0M262.0 54.4h0M223.8 68.1h0M226.4 68.2h0M231.1 68.6h0M232.7 68.6h0M235.6 68.2h0M237.5 68.5h0M239.3 68.2h0M246.2 68.0h0M248.8 68.0h0M250.8 68.1h0M255.4 68.0h0M257.3 68.1h0M224.8 70.6h0M227.1 70.9h0M229.5 70.6h0M231.7 70.7h0M233.5 70.5h0M236.0 70.9h0M238.5 71.2h0M240.9 71.1h0M243.0 71.1h0M247.7 71.0h0M253.0 71.1h0M254.9 70.5h0M257.7 70.6h0M262.3 70.9h0M224.7 73.5h0M227.0 73.3h0M231.7 73.6h0M233.8 73.1h0M236.2 73.0h0M238.9 73.0h0M241.5 73.7h0M243.6 73.4h0M245.4 72.9h0M255.2 73.3h0M260.1 73.0h0M262.2 73.6h0M244.1 76.1h0M248.8 76.1h0M251.0 75.7h0M253.3 75.5h0M241.9 78.6h0M246.0 78.4h0M248.3 78.0h0" stroke="#6f88b8" stroke-opacity="0.9" stroke-width="2.1" stroke-linecap="round"/>
<path d="M236.3 47.7h0M239.7 47.7h0M243.0 47.7h0M246.3 47.7h0M249.7 47.7h0M235.0 50.1h0M238.4 50.1h0M241.8 50.1h0M245.2 50.1h0M248.6 50.1h0M252.0 50.1h0M230.0 52.5h0M233.5 52.5h0M237.0 52.5h0M240.5 52.5h0M244.0 52.5h0M247.5 52.5h0M251.0 52.5h0M254.5 52.5h0M258.0 52.5h0M223.0 54.4h0M226.5 54.4h0M230.1 54.4h0M233.6 54.4h0M237.2 54.4h0M240.7 54.4h0M244.3 54.4h0M247.8 54.4h0M251.4 54.4h0M254.9 54.4h0M258.5 54.4h0M262.0 54.4h0M223.8 68.1h0M226.4 68.2h0M231.1 68.6h0M232.7 68.6h0M235.6 68.2h0M237.5 68.5h0M239.3 68.2h0M246.2 68.0h0M248.8 68.0h0M250.8 68.1h0M255.4 68.0h0M257.3 68.1h0M224.8 70.6h0M227.1 70.9h0M229.5 70.6h0M231.7 70.7h0M233.5 70.5h0M236.0 70.9h0M238.5 71.2h0M240.9 71.1h0M243.0 71.1h0M247.7 71.0h0M253.0 71.1h0M254.9 70.5h0M257.7 70.6h0M262.3 70.9h0M224.7 73.5h0M227.0 73.3h0M231.7 73.6h0M233.8 73.1h0M236.2 73.0h0M238.9 73.0h0M241.5 73.7h0M243.6 73.4h0M245.4 72.9h0M255.2 73.3h0M260.1 73.0h0M262.2 73.6h0M244.1 76.1h0M248.8 76.1h0M251.0 75.7h0M253.3 75.5h0M241.9 78.6h0M246.0 78.4h0M248.3 78.0h0" stroke="#bcc8e2" stroke-width="1.0" stroke-linecap="round"/>
<path d="M222.2 56.6H263.7M222.2 59.0H263.7M222.1 61.4H263.2M222.8 63.8H264.1M222.6 66.2H263.7" stroke="#bcc8e2" stroke-width="2.4"/>
<g stroke="#6f88b8" stroke-opacity="0.95" stroke-width="1.4" stroke-dasharray="1.6 1.0"><path d="M222.2 56.6H263.7" stroke-dashoffset="0.1"/><path d="M222.2 59.0H263.7" stroke-dashoffset="1.6"/><path d="M222.1 61.4H263.2" stroke-dashoffset="1.3"/><path d="M222.8 63.8H264.1" stroke-dashoffset="0.6"/><path d="M222.6 66.2H263.7" stroke-dashoffset="1.9"/></g>
<path d="M223.00 63.10H263.20" stroke="#111" stroke-width="1.9"/>
<path d="M242.80 56.50V69.30M233.00 56.50H252.60M233.00 69.30H252.60" stroke="#111" stroke-width="1.1"/>
<path d="M298.0 39.0h0M302.0 39.0h0M306.0 39.0h0M296.0 41.2h0M299.2 41.2h0M302.5 41.2h0M305.8 41.2h0M309.0 41.2h0M295.0 43.4h0M298.0 43.4h0M301.0 43.4h0M304.0 43.4h0M307.0 43.4h0M310.0 43.4h0M297.0 45.6h0M300.0 45.6h0M303.0 45.6h0M306.0 45.6h0M309.0 45.6h0M290.0 48.0h0M314.0 48.0h0M298.0 48.0h0M302.0 48.0h0M306.0 48.0h0M294.0 66.0h0M297.4 66.0h0M300.8 66.0h0M304.2 66.0h0M307.6 66.0h0M311.0 66.0h0M296.0 68.2h0M299.2 68.2h0M302.5 68.2h0M305.8 68.2h0M309.0 68.2h0M297.0 70.4h0M300.7 70.4h0M304.3 70.4h0M308.0 70.4h0M298.0 72.6h0M302.5 72.6h0M307.0 72.6h0M300.0 74.5h0M305.0 74.5h0M302.5 76.9h0M302.5 79.3h0" stroke="#cf5f7f" stroke-opacity="0.9" stroke-width="2.1" stroke-linecap="round"/>
<path d="M298.0 39.0h0M302.0 39.0h0M306.0 39.0h0M296.0 41.2h0M299.2 41.2h0M302.5 41.2h0M305.8 41.2h0M309.0 41.2h0M295.0 43.4h0M298.0 43.4h0M301.0 43.4h0M304.0 43.4h0M307.0 43.4h0M310.0 43.4h0M297.0 45.6h0M300.0 45.6h0M303.0 45.6h0M306.0 45.6h0M309.0 45.6h0M290.0 48.0h0M314.0 48.0h0M298.0 48.0h0M302.0 48.0h0M306.0 48.0h0M294.0 66.0h0M297.4 66.0h0M300.8 66.0h0M304.2 66.0h0M307.6 66.0h0M311.0 66.0h0M296.0 68.2h0M299.2 68.2h0M302.5 68.2h0M305.8 68.2h0M309.0 68.2h0M297.0 70.4h0M300.7 70.4h0M304.3 70.4h0M308.0 70.4h0M298.0 72.6h0M302.5 72.6h0M307.0 72.6h0M300.0 74.5h0M305.0 74.5h0M302.5 76.9h0M302.5 79.3h0" stroke="#e9adbe" stroke-width="1.0" stroke-linecap="round"/>
<path d="M282.7 51.6H322.4M283.2 54.0H322.0M282.1 56.3H322.1M282.9 58.7H321.9M282.3 61.0H322.8M282.9 63.4H322.2" stroke="#e9adbe" stroke-width="2.4"/>
<g stroke="#cf5f7f" stroke-opacity="0.95" stroke-width="1.4" stroke-dasharray="1.6 1.0"><path d="M282.7 51.6H322.4" stroke-dashoffset="2.4"/><path d="M283.2 54.0H322.0" stroke-dashoffset="0.9"/><path d="M282.1 56.3H322.1" stroke-dashoffset="1.8"/><path d="M282.9 58.7H321.9" stroke-dashoffset="0.5"/><path d="M282.3 61.0H322.8" stroke-dashoffset="1.2"/><path d="M282.9 63.4H322.2" stroke-dashoffset="2.2"/></g>
<path d="M282.50 57.00H322.50" stroke="#111" stroke-width="1.9"/>
<path d="M302.50 49.50V64.10M292.90 49.50H312.10M292.90 64.10H312.10" stroke="#111" stroke-width="1.1"/>
<path d="M402.0 71.2h0M405.3 71.2h0M408.7 71.2h0M412.0 71.2h0M415.3 71.2h0M418.7 71.2h0M422.0 71.2h0M409.0 72.4h0M412.0 72.4h0M415.0 72.4h0" stroke="#6f88b8" stroke-opacity="0.9" stroke-width="2.1" stroke-linecap="round"/>
<path d="M402.0 71.2h0M405.3 71.2h0M408.7 71.2h0M412.0 71.2h0M415.3 71.2h0M418.7 71.2h0M422.0 71.2h0M409.0 72.4h0M412.0 72.4h0M415.0 72.4h0" stroke="#bcc8e2" stroke-width="1.0" stroke-linecap="round"/>
<path d="M410.1 35.5h2.8M411.5 34.1v2.8M408.6 46.0h2.8M410.0 44.6v2.8M411.6 47.4h2.8M413.0 46.0v2.8M407.1 49.2h2.8M408.5 47.8v2.8M412.6 49.2h2.8M414.0 47.8v2.8M409.6 50.6h2.8M411.0 49.2v2.8M405.6 53.8h2.8M407.0 52.4v2.8M408.6 53.8h2.8M410.0 52.4v2.8M411.6 53.8h2.8M413.0 52.4v2.8M414.6 53.8h2.8M416.0 52.4v2.8M404.6 56.2h2.8M406.0 54.8v2.8M408.6 56.2h2.8M410.0 54.8v2.8M412.6 56.2h2.8M414.0 54.8v2.8M416.6 56.2h2.8M418.0 54.8v2.8M402.6 57.6h2.8M404.0 56.2v2.8M406.4 57.6h2.8M407.8 56.2v2.8M410.1 57.6h2.8M411.5 56.2v2.8M413.9 57.6h2.8M415.2 56.2v2.8M417.6 57.6h2.8M419.0 56.2v2.8" stroke="#6f88b8" stroke-opacity="0.95" stroke-width="1.2"/>
<path d="M391.4 60.3H432.7M390.8 62.4H432.3M390.7 64.6H431.8M390.9 66.8H432.6M391.3 68.9H432.5" stroke="#bcc8e2" stroke-width="2.4"/>
<g stroke="#6f88b8" stroke-opacity="0.95" stroke-width="1.4" stroke-dasharray="1.6 1.0"><path d="M391.4 60.3H432.7" stroke-dashoffset="2.6"/><path d="M390.8 62.4H432.3" stroke-dashoffset="0.7"/><path d="M390.7 64.6H431.8" stroke-dashoffset="0.5"/><path d="M390.9 66.8H432.6" stroke-dashoffset="1.2"/><path d="M391.3 68.9H432.5" stroke-dashoffset="0.7"/></g>
<path d="M391.30 64.50H431.00" stroke="#111" stroke-width="1.9"/>
<path d="M411.50 59.50V69.00M402.00 59.50H421.00M402.00 69.00H421.00" stroke="#111" stroke-width="1.1"/>
<path d="M457.0 69.9h0M460.1 69.9h0M463.2 69.9h0M466.3 69.9h0M469.4 69.9h0M472.6 69.9h0M475.7 69.9h0M478.8 69.9h0M481.9 69.9h0M485.0 69.9h0M465.0 71.2h0M468.2 71.2h0M471.5 71.2h0M474.8 71.2h0M478.0 71.2h0" stroke="#cf5f7f" stroke-opacity="0.9" stroke-width="2.1" stroke-linecap="round"/>
<path d="M457.0 69.9h0M460.1 69.9h0M463.2 69.9h0M466.3 69.9h0M469.4 69.9h0M472.6 69.9h0M475.7 69.9h0M478.8 69.9h0M481.9 69.9h0M485.0 69.9h0M465.0 71.2h0M468.2 71.2h0M471.5 71.2h0M474.8 71.2h0M478.0 71.2h0" stroke="#e9adbe" stroke-width="1.0" stroke-linecap="round"/>
<path d="M469.6 29.4h2.8M471.0 28.0v2.8M469.6 35.9h2.8M471.0 34.5v2.8M469.6 41.2h2.8M471.0 39.8v2.8M467.1 43.7h2.8M468.5 42.3v2.8M472.1 43.7h2.8M473.5 42.3v2.8M465.6 46.4h2.8M467.0 45.0v2.8M469.6 46.4h2.8M471.0 45.0v2.8M473.6 46.4h2.8M475.0 45.0v2.8M468.6 48.4h2.8M470.0 47.0v2.8M472.6 48.4h2.8M474.0 47.0v2.8M463.6 51.3h2.8M465.0 49.9v2.8M469.1 51.3h2.8M470.5 49.9v2.8M474.6 51.3h2.8M476.0 49.9v2.8M466.6 53.3h2.8M468.0 51.9v2.8M470.6 53.3h2.8M472.0 51.9v2.8M458.6 55.7h2.8M460.0 54.3v2.8M480.1 55.7h2.8M481.5 54.3v2.8M462.6 56.3h2.8M464.0 54.9v2.8M466.1 56.3h2.8M467.5 54.9v2.8M469.6 56.3h2.8M471.0 54.9v2.8M473.1 56.3h2.8M474.5 54.9v2.8M476.6 56.3h2.8M478.0 54.9v2.8" stroke="#cf5f7f" stroke-opacity="0.95" stroke-width="1.2"/>
<path d="M450.1 59.0H491.6M450.6 61.0H491.7M450.2 63.1H492.1M451.0 65.1H491.6M449.9 67.2H491.1" stroke="#e9adbe" stroke-width="2.4"/>
<g stroke="#cf5f7f" stroke-opacity="0.95" stroke-width="1.4" stroke-dasharray="1.6 1.0"><path d="M450.1 59.0H491.6" stroke-dashoffset="2.4"/><path d="M450.6 61.0H491.7" stroke-dashoffset="0.1"/><path d="M450.2 63.1H492.1" stroke-dashoffset="1.9"/><path d="M451.0 65.1H491.6" stroke-dashoffset="1.5"/><path d="M449.9 67.2H491.1" stroke-dashoffset="0.8"/></g>
<path d="M450.50 62.60H490.70" stroke="#111" stroke-width="1.9"/>
<path d="M469.50 56.30V69.00M460.00 56.30H479.00M460.00 69.00H479.00" stroke="#111" stroke-width="1.1"/>
<path d="M70.2 174.5h0M72.5 174.5h0M74.8 174.5h0M77.1 174.5h0M79.4 174.5h0M81.7 174.5h0M84.0 174.5h0M86.3 174.5h0M88.6 174.5h0M90.9 174.5h0M78.3 178.3h0M80.4 178.3h0M82.5 178.3h0M76.0 182.2h0M78.3 182.2h0M80.6 182.2h0M82.9 182.2h0M85.2 182.2h0M76.0 186.1h0M78.3 186.1h0M80.6 186.1h0M82.9 186.1h0M85.2 186.1h0M69.4 190.0h0M71.7 190.0h0M74.0 190.0h0M76.4 190.0h0M78.7 190.0h0M81.0 190.0h0M83.3 190.0h0M85.6 190.0h0M88.0 190.0h0M90.3 190.0h0M92.6 190.0h0M72.0 194.0h0M74.4 194.0h0M76.9 194.0h0M79.3 194.0h0M81.7 194.0h0M84.1 194.0h0M86.6 194.0h0M89.0 194.0h0M69.4 198.0h0M71.7 198.0h0M73.9 198.0h0M76.2 198.0h0M78.4 198.0h0M80.7 198.0h0M83.0 198.0h0M85.2 198.0h0M87.5 198.0h0M89.7 198.0h0M92.0 198.0h0M64.5 202.0h0M66.8 202.0h0M69.1 202.0h0M71.5 202.0h0M73.8 202.0h0M76.1 202.0h0M78.4 202.0h0M80.8 202.0h0M83.1 202.0h0M85.4 202.0h0M87.7 202.0h0M90.0 202.0h0M92.4 202.0h0M94.7 202.0h0M97.0 202.0h0M61.3 206.0h0M63.6 206.0h0M65.9 206.0h0M68.1 206.0h0M70.4 206.0h0M72.7 206.0h0M75.0 206.0h0M77.2 206.0h0M79.5 206.0h0M81.8 206.0h0M84.1 206.0h0M86.3 206.0h0M88.6 206.0h0M90.9 206.0h0M93.2 206.0h0M95.4 206.0h0M97.7 206.0h0M100.0 206.0h0M62.0 209.7h0M64.3 209.7h0M66.7 209.7h0M69.0 209.7h0M71.3 209.7h0M73.7 209.7h0M76.0 209.7h0M78.4 209.7h0M80.7 209.7h0M83.0 209.7h0M85.4 209.7h0M87.7 209.7h0M90.1 209.7h0M92.4 209.7h0M94.7 209.7h0M97.1 209.7h0M99.4 209.7h0M62.0 211.8h0M64.5 211.8h0M67.0 211.8h0M94.0 211.8h0M96.5 211.8h0M99.0 211.8h0M67.0 214.0h0M69.3 214.0h0M71.7 214.0h0M74.0 214.0h0M76.3 214.0h0M78.7 214.0h0M81.0 214.0h0M83.3 214.0h0M85.7 214.0h0M88.0 214.0h0M90.3 214.0h0M92.7 214.0h0M95.0 214.0h0" stroke="#6f88b8" stroke-opacity="0.9" stroke-width="2.1" stroke-linecap="round"/>
<path d="M70.2 174.5h0M72.5 174.5h0M74.8 174.5h0M77.1 174.5h0M79.4 174.5h0M81.7 174.5h0M84.0 174.5h0M86.3 174.5h0M88.6 174.5h0M90.9 174.5h0M78.3 178.3h0M80.4 178.3h0M82.5 178.3h0M76.0 182.2h0M78.3 182.2h0M80.6 182.2h0M82.9 182.2h0M85.2 182.2h0M76.0 186.1h0M78.3 186.1h0M80.6 186.1h0M82.9 186.1h0M85.2 186.1h0M69.4 190.0h0M71.7 190.0h0M74.0 190.0h0M76.4 190.0h0M78.7 190.0h0M81.0 190.0h0M83.3 190.0h0M85.6 190.0h0M88.0 190.0h0M90.3 190.0h0M92.6 190.0h0M72.0 194.0h0M74.4 194.0h0M76.9 194.0h0M79.3 194.0h0M81.7 194.0h0M84.1 194.0h0M86.6 194.0h0M89.0 194.0h0M69.4 198.0h0M71.7 198.0h0M73.9 198.0h0M76.2 198.0h0M78.4 198.0h0M80.7 198.0h0M83.0 198.0h0M85.2 198.0h0M87.5 198.0h0M89.7 198.0h0M92.0 198.0h0M64.5 202.0h0M66.8 202.0h0M69.1 202.0h0M71.5 202.0h0M73.8 202.0h0M76.1 202.0h0M78.4 202.0h0M80.8 202.0h0M83.1 202.0h0M85.4 202.0h0M87.7 202.0h0M90.0 202.0h0M92.4 202.0h0M94.7 202.0h0M97.0 202.0h0M61.3 206.0h0M63.6 206.0h0M65.9 206.0h0M68.1 206.0h0M70.4 206.0h0M72.7 206.0h0M75.0 206.0h0M77.2 206.0h0M79.5 206.0h0M81.8 206.0h0M84.1 206.0h0M86.3 206.0h0M88.6 206.0h0M90.9 206.0h0M93.2 206.0h0M95.4 206.0h0M97.7 206.0h0M100.0 206.0h0M62.0 209.7h0M64.3 209.7h0M66.7 209.7h0M69.0 209.7h0M71.3 209.7h0M73.7 209.7h0M76.0 209.7h0M78.4 209.7h0M80.7 209.7h0M83.0 209.7h0M85.4 209.7h0M87.7 209.7h0M90.1 209.7h0M92.4 209.7h0M94.7 209.7h0M97.1 209.7h0M99.4 209.7h0M62.0 211.8h0M64.5 211.8h0M67.0 211.8h0M94.0 211.8h0M96.5 211.8h0M99.0 211.8h0M67.0 214.0h0M69.3 214.0h0M71.7 214.0h0M74.0 214.0h0M76.3 214.0h0M78.7 214.0h0M81.0 214.0h0M83.3 214.0h0M85.7 214.0h0M88.0 214.0h0M90.3 214.0h0M92.7 214.0h0M95.0 214.0h0" stroke="#bcc8e2" stroke-width="1.0" stroke-linecap="round"/>
<path d="M67.0 214.0H95.0" stroke="#1d2f6a" stroke-width="1.2" stroke-opacity="0.9"/>
<path d="M60.90 205.60H100.50" stroke="#111" stroke-width="1.9"/>
<path d="M80.70 194.60V216.40M70.90 194.60H90.50M70.90 216.40H90.50" stroke="#111" stroke-width="1.1"/>
<path d="M126.9 174.5h0M129.3 174.5h0M131.7 174.5h0M134.1 174.5h0M136.5 174.5h0M138.9 174.5h0M141.3 174.5h0M143.7 174.5h0M146.1 174.5h0M148.5 174.5h0M150.9 174.5h0M153.3 174.5h0M122.2 178.3h0M124.6 178.3h0M126.9 178.3h0M129.3 178.3h0M131.6 178.3h0M134.0 178.3h0M136.3 178.3h0M138.7 178.3h0M141.0 178.3h0M143.4 178.3h0M145.7 178.3h0M148.1 178.3h0M150.4 178.3h0M152.8 178.3h0M155.1 178.3h0M157.5 178.3h0M125.8 182.2h0M128.1 182.2h0M130.4 182.2h0M132.8 182.2h0M135.1 182.2h0M137.4 182.2h0M139.8 182.2h0M142.1 182.2h0M144.4 182.2h0M146.7 182.2h0M149.0 182.2h0M151.4 182.2h0M153.7 182.2h0M133.0 186.3h0M135.4 186.3h0M137.8 186.3h0M140.2 186.3h0M142.6 186.3h0M145.0 186.3h0M134.3 190.4h0M136.6 190.4h0M138.9 190.4h0M141.2 190.4h0M143.5 190.4h0M145.8 190.4h0M132.0 194.0h0M134.3 194.0h0M136.6 194.0h0M138.9 194.0h0M141.1 194.0h0M143.4 194.0h0M145.7 194.0h0M148.0 194.0h0M127.2 197.7h0M129.5 197.7h0M131.9 197.7h0M134.2 197.7h0M136.5 197.7h0M138.8 197.7h0M141.2 197.7h0M143.5 197.7h0M145.8 197.7h0M148.1 197.7h0M150.5 197.7h0M152.8 197.7h0M120.7 202.0h0M122.3 202.0h0M123.9 202.0h0M125.5 202.0h0M127.1 202.0h0M128.7 202.0h0M130.3 202.0h0M131.9 202.0h0M133.5 202.0h0M135.1 202.0h0M136.7 202.0h0M138.3 202.0h0M139.8 202.0h0M141.4 202.0h0M143.0 202.0h0M144.6 202.0h0M146.2 202.0h0M147.8 202.0h0M149.4 202.0h0M151.0 202.0h0M152.6 202.0h0M154.2 202.0h0M155.8 202.0h0M157.4 202.0h0M159.0 202.0h0M120.7 206.1h0M122.3 206.1h0M123.9 206.1h0M125.5 206.1h0M127.1 206.1h0M128.7 206.1h0M130.3 206.1h0M131.9 206.1h0M133.5 206.1h0M135.1 206.1h0M136.7 206.1h0M138.3 206.1h0M139.8 206.1h0M141.4 206.1h0M143.0 206.1h0M144.6 206.1h0M146.2 206.1h0M147.8 206.1h0M149.4 206.1h0M151.0 206.1h0M152.6 206.1h0M154.2 206.1h0M155.8 206.1h0M157.4 206.1h0M159.0 206.1h0M120.7 209.7h0M122.3 209.7h0M123.9 209.7h0M125.5 209.7h0M127.1 209.7h0M128.7 209.7h0M130.3 209.7h0M131.9 209.7h0M133.5 209.7h0M135.1 209.7h0M136.7 209.7h0M138.3 209.7h0M139.8 209.7h0M141.4 209.7h0M143.0 209.7h0M144.6 209.7h0M146.2 209.7h0M147.8 209.7h0M149.4 209.7h0M151.0 209.7h0M152.6 209.7h0M154.2 209.7h0M155.8 209.7h0M157.4 209.7h0M159.0 209.7h0M120.7 211.5h0M122.3 211.5h0M123.9 211.5h0M125.5 211.5h0M127.1 211.5h0M128.7 211.5h0M130.3 211.5h0M131.9 211.5h0M133.5 211.5h0M135.1 211.5h0M136.7 211.5h0M138.3 211.5h0M139.8 211.5h0M141.4 211.5h0M143.0 211.5h0M144.6 211.5h0M146.2 211.5h0M147.8 211.5h0M149.4 211.5h0M151.0 211.5h0M152.6 211.5h0M154.2 211.5h0M155.8 211.5h0M157.4 211.5h0M159.0 211.5h0M130.3 213.7h0M131.9 213.7h0M133.6 213.7h0M135.2 213.7h0M136.8 213.7h0M138.4 213.7h0M140.1 213.7h0M141.7 213.7h0M143.3 213.7h0M145.0 213.7h0M146.6 213.7h0" stroke="#cf5f7f" stroke-opacity="0.9" stroke-width="2.1" stroke-linecap="round"/>
<path d="M126.9 174.5h0M129.3 174.5h0M131.7 174.5h0M134.1 174.5h0M136.5 174.5h0M138.9 174.5h0M141.3 174.5h0M143.7 174.5h0M146.1 174.5h0M148.5 174.5h0M150.9 174.5h0M153.3 174.5h0M122.2 178.3h0M124.6 178.3h0M126.9 178.3h0M129.3 178.3h0M131.6 178.3h0M134.0 178.3h0M136.3 178.3h0M138.7 178.3h0M141.0 178.3h0M143.4 178.3h0M145.7 178.3h0M148.1 178.3h0M150.4 178.3h0M152.8 178.3h0M155.1 178.3h0M157.5 178.3h0M125.8 182.2h0M128.1 182.2h0M130.4 182.2h0M132.8 182.2h0M135.1 182.2h0M137.4 182.2h0M139.8 182.2h0M142.1 182.2h0M144.4 182.2h0M146.7 182.2h0M149.0 182.2h0M151.4 182.2h0M153.7 182.2h0M133.0 186.3h0M135.4 186.3h0M137.8 186.3h0M140.2 186.3h0M142.6 186.3h0M145.0 186.3h0M134.3 190.4h0M136.6 190.4h0M138.9 190.4h0M141.2 190.4h0M143.5 190.4h0M145.8 190.4h0M132.0 194.0h0M134.3 194.0h0M136.6 194.0h0M138.9 194.0h0M141.1 194.0h0M143.4 194.0h0M145.7 194.0h0M148.0 194.0h0M127.2 197.7h0M129.5 197.7h0M131.9 197.7h0M134.2 197.7h0M136.5 197.7h0M138.8 197.7h0M141.2 197.7h0M143.5 197.7h0M145.8 197.7h0M148.1 197.7h0M150.5 197.7h0M152.8 197.7h0M120.7 202.0h0M122.3 202.0h0M123.9 202.0h0M125.5 202.0h0M127.1 202.0h0M128.7 202.0h0M130.3 202.0h0M131.9 202.0h0M133.5 202.0h0M135.1 202.0h0M136.7 202.0h0M138.3 202.0h0M139.8 202.0h0M141.4 202.0h0M143.0 202.0h0M144.6 202.0h0M146.2 202.0h0M147.8 202.0h0M149.4 202.0h0M151.0 202.0h0M152.6 202.0h0M154.2 202.0h0M155.8 202.0h0M157.4 202.0h0M159.0 202.0h0M120.7 206.1h0M122.3 206.1h0M123.9 206.1h0M125.5 206.1h0M127.1 206.1h0M128.7 206.1h0M130.3 206.1h0M131.9 206.1h0M133.5 206.1h0M135.1 206.1h0M136.7 206.1h0M138.3 206.1h0M139.8 206.1h0M141.4 206.1h0M143.0 206.1h0M144.6 206.1h0M146.2 206.1h0M147.8 206.1h0M149.4 206.1h0M151.0 206.1h0M152.6 206.1h0M154.2 206.1h0M155.8 206.1h0M157.4 206.1h0M159.0 206.1h0M120.7 209.7h0M122.3 209.7h0M123.9 209.7h0M125.5 209.7h0M127.1 209.7h0M128.7 209.7h0M130.3 209.7h0M131.9 209.7h0M133.5 209.7h0M135.1 209.7h0M136.7 209.7h0M138.3 209.7h0M139.8 209.7h0M141.4 209.7h0M143.0 209.7h0M144.6 209.7h0M146.2 209.7h0M147.8 209.7h0M149.4 209.7h0M151.0 209.7h0M152.6 209.7h0M154.2 209.7h0M155.8 209.7h0M157.4 209.7h0M159.0 209.7h0M120.7 211.5h0M122.3 211.5h0M123.9 211.5h0M125.5 211.5h0M127.1 211.5h0M128.7 211.5h0M130.3 211.5h0M131.9 211.5h0M133.5 211.5h0M135.1 211.5h0M136.7 211.5h0M138.3 211.5h0M139.8 211.5h0M141.4 211.5h0M143.0 211.5h0M144.6 211.5h0M146.2 211.5h0M147.8 211.5h0M149.4 211.5h0M151.0 211.5h0M152.6 211.5h0M154.2 211.5h0M155.8 211.5h0M157.4 211.5h0M159.0 211.5h0M130.3 213.7h0M131.9 213.7h0M133.6 213.7h0M135.2 213.7h0M136.8 213.7h0M138.4 213.7h0M140.1 213.7h0M141.7 213.7h0M143.3 213.7h0M145.0 213.7h0M146.6 213.7h0" stroke="#e9adbe" stroke-width="1.0" stroke-linecap="round"/>
<path d="M120.10 199.25H160.00" stroke="#111" stroke-width="1.9"/>
<path d="M140.00 186.60V212.60M130.50 186.60H149.50M130.50 212.60H149.50" stroke="#111" stroke-width="1.1"/>
<path d="M247.5 161.2h0M244.3 167.8h0M246.5 167.8h0M248.8 167.8h0M251.0 167.8h0M246.0 174.3h0M249.0 174.3h0M243.2 180.9h0M245.6 180.9h0M247.9 180.9h0M250.3 180.9h0M252.7 180.9h0M237.3 187.5h0M239.6 187.5h0M241.9 187.5h0M244.2 187.5h0M246.5 187.5h0M248.8 187.5h0M251.1 187.5h0M253.4 187.5h0M255.7 187.5h0M258.0 187.5h0M235.0 194.2h0M237.4 194.2h0M239.7 194.2h0M242.1 194.2h0M244.5 194.2h0M246.8 194.2h0M249.2 194.2h0M251.5 194.2h0M253.9 194.2h0M256.3 194.2h0M258.6 194.2h0M261.0 194.2h0M233.7 200.8h0M236.1 200.8h0M238.4 200.8h0M240.8 200.8h0M243.1 200.8h0M245.5 200.8h0M247.8 200.8h0M250.2 200.8h0M252.6 200.8h0M254.9 200.8h0M257.3 200.8h0M259.6 200.8h0M262.0 200.8h0M228.4 207.5h0M230.0 207.5h0M231.6 207.5h0M233.2 207.5h0M234.8 207.5h0M236.4 207.5h0M238.0 207.5h0M239.6 207.5h0M241.2 207.5h0M242.8 207.5h0M244.4 207.5h0M246.0 207.5h0M247.6 207.5h0M249.3 207.5h0M250.9 207.5h0M252.5 207.5h0M254.1 207.5h0M255.7 207.5h0M257.3 207.5h0M258.9 207.5h0M260.5 207.5h0M262.1 207.5h0M263.7 207.5h0M265.3 207.5h0M266.9 207.5h0M228.4 214.0h0M230.0 214.0h0M231.6 214.0h0M233.2 214.0h0M234.8 214.0h0M236.4 214.0h0M238.0 214.0h0M239.6 214.0h0M241.2 214.0h0M242.8 214.0h0M244.4 214.0h0M246.0 214.0h0M247.6 214.0h0M249.3 214.0h0M250.9 214.0h0M252.5 214.0h0M254.1 214.0h0M255.7 214.0h0M257.3 214.0h0M258.9 214.0h0M260.5 214.0h0M262.1 214.0h0M263.7 214.0h0M265.3 214.0h0M266.9 214.0h0M230.0 220.3h0M231.6 220.3h0M233.2 220.3h0M234.8 220.3h0M236.4 220.3h0M238.0 220.3h0M239.7 220.3h0M241.3 220.3h0M242.9 220.3h0M244.5 220.3h0M246.1 220.3h0M247.7 220.3h0M249.3 220.3h0M250.9 220.3h0M252.5 220.3h0M254.1 220.3h0M255.7 220.3h0M257.4 220.3h0M259.0 220.3h0M260.6 220.3h0M262.2 220.3h0M263.8 220.3h0M265.4 220.3h0" stroke="#6f88b8" stroke-opacity="0.9" stroke-width="2.1" stroke-linecap="round"/>
<path d="M247.5 161.2h0M244.3 167.8h0M246.5 167.8h0M248.8 167.8h0M251.0 167.8h0M246.0 174.3h0M249.0 174.3h0M243.2 180.9h0M245.6 180.9h0M247.9 180.9h0M250.3 180.9h0M252.7 180.9h0M237.3 187.5h0M239.6 187.5h0M241.9 187.5h0M244.2 187.5h0M246.5 187.5h0M248.8 187.5h0M251.1 187.5h0M253.4 187.5h0M255.7 187.5h0M258.0 187.5h0M235.0 194.2h0M237.4 194.2h0M239.7 194.2h0M242.1 194.2h0M244.5 194.2h0M246.8 194.2h0M249.2 194.2h0M251.5 194.2h0M253.9 194.2h0M256.3 194.2h0M258.6 194.2h0M261.0 194.2h0M233.7 200.8h0M236.1 200.8h0M238.4 200.8h0M240.8 200.8h0M243.1 200.8h0M245.5 200.8h0M247.8 200.8h0M250.2 200.8h0M252.6 200.8h0M254.9 200.8h0M257.3 200.8h0M259.6 200.8h0M262.0 200.8h0M228.4 207.5h0M230.0 207.5h0M231.6 207.5h0M233.2 207.5h0M234.8 207.5h0M236.4 207.5h0M238.0 207.5h0M239.6 207.5h0M241.2 207.5h0M242.8 207.5h0M244.4 207.5h0M246.0 207.5h0M247.6 207.5h0M249.3 207.5h0M250.9 207.5h0M252.5 207.5h0M254.1 207.5h0M255.7 207.5h0M257.3 207.5h0M258.9 207.5h0M260.5 207.5h0M262.1 207.5h0M263.7 207.5h0M265.3 207.5h0M266.9 207.5h0M228.4 214.0h0M230.0 214.0h0M231.6 214.0h0M233.2 214.0h0M234.8 214.0h0M236.4 214.0h0M238.0 214.0h0M239.6 214.0h0M241.2 214.0h0M242.8 214.0h0M244.4 214.0h0M246.0 214.0h0M247.6 214.0h0M249.3 214.0h0M250.9 214.0h0M252.5 214.0h0M254.1 214.0h0M255.7 214.0h0M257.3 214.0h0M258.9 214.0h0M260.5 214.0h0M262.1 214.0h0M263.7 214.0h0M265.3 214.0h0M266.9 214.0h0M230.0 220.3h0M231.6 220.3h0M233.2 220.3h0M234.8 220.3h0M236.4 220.3h0M238.0 220.3h0M239.7 220.3h0M241.3 220.3h0M242.9 220.3h0M244.5 220.3h0M246.1 220.3h0M247.7 220.3h0M249.3 220.3h0M250.9 220.3h0M252.5 220.3h0M254.1 220.3h0M255.7 220.3h0M257.4 220.3h0M259.0 220.3h0M260.6 220.3h0M262.2 220.3h0M263.8 220.3h0M265.4 220.3h0" stroke="#bcc8e2" stroke-width="1.0" stroke-linecap="round"/>
<path d="M230.5 220.3H265.0" stroke="#1d2f6a" stroke-width="1.2" stroke-opacity="0.9"/>
<path d="M228.40 209.90H267.60" stroke="#111" stroke-width="1.9"/>
<path d="M247.85 196.60V223.10M238.10 196.60H257.60M238.10 223.10H257.60" stroke="#111" stroke-width="1.1"/>
<path d="M303.6 161.2h0M305.8 161.2h0M308.1 161.2h0M310.3 161.2h0M293.0 167.8h0M295.4 167.8h0M297.7 167.8h0M300.1 167.8h0M302.4 167.8h0M304.8 167.8h0M307.1 167.8h0M309.5 167.8h0M311.9 167.8h0M314.2 167.8h0M316.6 167.8h0M318.9 167.8h0M321.3 167.8h0M297.4 174.3h0M299.8 174.3h0M302.3 174.3h0M304.7 174.3h0M307.1 174.3h0M309.6 174.3h0M312.0 174.3h0M314.5 174.3h0M316.9 174.3h0M302.3 180.9h0M304.7 180.9h0M307.1 180.9h0M309.4 180.9h0M311.8 180.9h0M295.2 187.5h0M297.6 187.5h0M299.9 187.5h0M302.3 187.5h0M304.7 187.5h0M307.0 187.5h0M309.4 187.5h0M311.8 187.5h0M314.2 187.5h0M316.5 187.5h0M318.9 187.5h0M293.0 194.2h0M295.3 194.2h0M297.6 194.2h0M299.9 194.2h0M302.2 194.2h0M304.5 194.2h0M306.9 194.2h0M309.2 194.2h0M311.5 194.2h0M313.8 194.2h0M316.1 194.2h0M318.4 194.2h0M320.7 194.2h0M287.5 200.8h0M289.1 200.8h0M290.7 200.8h0M292.3 200.8h0M293.9 200.8h0M295.5 200.8h0M297.1 200.8h0M298.6 200.8h0M300.2 200.8h0M301.8 200.8h0M303.4 200.8h0M305.0 200.8h0M306.6 200.8h0M308.2 200.8h0M309.8 200.8h0M311.4 200.8h0M313.0 200.8h0M314.6 200.8h0M316.2 200.8h0M317.7 200.8h0M319.3 200.8h0M320.9 200.8h0M322.5 200.8h0M324.1 200.8h0M325.7 200.8h0M327.3 200.8h0M287.5 207.5h0M289.1 207.5h0M290.7 207.5h0M292.3 207.5h0M293.9 207.5h0M295.5 207.5h0M297.1 207.5h0M298.6 207.5h0M300.2 207.5h0M301.8 207.5h0M303.4 207.5h0M305.0 207.5h0M306.6 207.5h0M308.2 207.5h0M309.8 207.5h0M311.4 207.5h0M313.0 207.5h0M314.6 207.5h0M316.2 207.5h0M317.7 207.5h0M319.3 207.5h0M320.9 207.5h0M322.5 207.5h0M324.1 207.5h0M325.7 207.5h0M327.3 207.5h0M287.5 214.0h0M289.1 214.0h0M290.7 214.0h0M292.3 214.0h0M293.9 214.0h0M295.5 214.0h0M297.1 214.0h0M298.6 214.0h0M300.2 214.0h0M301.8 214.0h0M303.4 214.0h0M305.0 214.0h0M306.6 214.0h0M308.2 214.0h0M309.8 214.0h0M311.4 214.0h0M313.0 214.0h0M314.6 214.0h0M316.2 214.0h0M317.7 214.0h0M319.3 214.0h0M320.9 214.0h0M322.5 214.0h0M324.1 214.0h0M325.7 214.0h0M327.3 214.0h0M287.5 220.3h0M289.1 220.3h0M290.7 220.3h0M292.3 220.3h0M293.9 220.3h0M295.5 220.3h0M297.1 220.3h0M298.6 220.3h0M300.2 220.3h0M301.8 220.3h0M303.4 220.3h0M305.0 220.3h0M306.6 220.3h0M308.2 220.3h0M309.8 220.3h0M311.4 220.3h0M313.0 220.3h0M314.6 220.3h0M316.2 220.3h0M317.7 220.3h0M319.3 220.3h0M320.9 220.3h0M322.5 220.3h0M324.1 220.3h0M325.7 220.3h0M327.3 220.3h0" stroke="#cf5f7f" stroke-opacity="0.9" stroke-width="2.1" stroke-linecap="round"/>
<path d="M303.6 161.2h0M305.8 161.2h0M308.1 161.2h0M310.3 161.2h0M293.0 167.8h0M295.4 167.8h0M297.7 167.8h0M300.1 167.8h0M302.4 167.8h0M304.8 167.8h0M307.1 167.8h0M309.5 167.8h0M311.9 167.8h0M314.2 167.8h0M316.6 167.8h0M318.9 167.8h0M321.3 167.8h0M297.4 174.3h0M299.8 174.3h0M302.3 174.3h0M304.7 174.3h0M307.1 174.3h0M309.6 174.3h0M312.0 174.3h0M314.5 174.3h0M316.9 174.3h0M302.3 180.9h0M304.7 180.9h0M307.1 180.9h0M309.4 180.9h0M311.8 180.9h0M295.2 187.5h0M297.6 187.5h0M299.9 187.5h0M302.3 187.5h0M304.7 187.5h0M307.0 187.5h0M309.4 187.5h0M311.8 187.5h0M314.2 187.5h0M316.5 187.5h0M318.9 187.5h0M293.0 194.2h0M295.3 194.2h0M297.6 194.2h0M299.9 194.2h0M302.2 194.2h0M304.5 194.2h0M306.9 194.2h0M309.2 194.2h0M311.5 194.2h0M313.8 194.2h0M316.1 194.2h0M318.4 194.2h0M320.7 194.2h0M287.5 200.8h0M289.1 200.8h0M290.7 200.8h0M292.3 200.8h0M293.9 200.8h0M295.5 200.8h0M297.1 200.8h0M298.6 200.8h0M300.2 200.8h0M301.8 200.8h0M303.4 200.8h0M305.0 200.8h0M306.6 200.8h0M308.2 200.8h0M309.8 200.8h0M311.4 200.8h0M313.0 200.8h0M314.6 200.8h0M316.2 200.8h0M317.7 200.8h0M319.3 200.8h0M320.9 200.8h0M322.5 200.8h0M324.1 200.8h0M325.7 200.8h0M327.3 200.8h0M287.5 207.5h0M289.1 207.5h0M290.7 207.5h0M292.3 207.5h0M293.9 207.5h0M295.5 207.5h0M297.1 207.5h0M298.6 207.5h0M300.2 207.5h0M301.8 207.5h0M303.4 207.5h0M305.0 207.5h0M306.6 207.5h0M308.2 207.5h0M309.8 207.5h0M311.4 207.5h0M313.0 207.5h0M314.6 207.5h0M316.2 207.5h0M317.7 207.5h0M319.3 207.5h0M320.9 207.5h0M322.5 207.5h0M324.1 207.5h0M325.7 207.5h0M327.3 207.5h0M287.5 214.0h0M289.1 214.0h0M290.7 214.0h0M292.3 214.0h0M293.9 214.0h0M295.5 214.0h0M297.1 214.0h0M298.6 214.0h0M300.2 214.0h0M301.8 214.0h0M303.4 214.0h0M305.0 214.0h0M306.6 214.0h0M308.2 214.0h0M309.8 214.0h0M311.4 214.0h0M313.0 214.0h0M314.6 214.0h0M316.2 214.0h0M317.7 214.0h0M319.3 214.0h0M320.9 214.0h0M322.5 214.0h0M324.1 214.0h0M325.7 214.0h0M327.3 214.0h0M287.5 220.3h0M289.1 220.3h0M290.7 220.3h0M292.3 220.3h0M293.9 220.3h0M295.5 220.3h0M297.1 220.3h0M298.6 220.3h0M300.2 220.3h0M301.8 220.3h0M303.4 220.3h0M305.0 220.3h0M306.6 220.3h0M308.2 220.3h0M309.8 220.3h0M311.4 220.3h0M313.0 220.3h0M314.6 220.3h0M316.2 220.3h0M317.7 220.3h0M319.3 220.3h0M320.9 220.3h0M322.5 220.3h0M324.1 220.3h0M325.7 220.3h0M327.3 220.3h0" stroke="#e9adbe" stroke-width="1.0" stroke-linecap="round"/>
<path d="M288.0 220.3H326.5" stroke="#9a1030" stroke-width="1.0" stroke-opacity="0.8"/>
<path d="M287.50 202.10H327.30" stroke="#111" stroke-width="1.9"/>
<path d="M306.95 185.30V219.20M297.00 185.30H316.90M297.00 219.20H316.90" stroke="#111" stroke-width="1.1"/>
<path d="M79.6 295.1h0M81.9 295.1h0M79.6 300.4h0M81.9 300.4h0M80.8 305.9h0M77.2 311.2h0M79.5 311.2h0M81.9 311.2h0M84.2 311.2h0M73.6 316.5h0M76.0 316.5h0M78.3 316.5h0M80.7 316.5h0M83.1 316.5h0M85.4 316.5h0M87.8 316.5h0M74.5 321.7h0M77.0 321.7h0M79.5 321.7h0M82.0 321.7h0M84.5 321.7h0M87.0 321.7h0M65.6 327.0h0M67.9 327.0h0M70.2 327.0h0M72.4 327.0h0M74.7 327.0h0M77.0 327.0h0M79.3 327.0h0M81.5 327.0h0M83.8 327.0h0M86.1 327.0h0M88.4 327.0h0M90.6 327.0h0M92.9 327.0h0M95.2 327.0h0M64.5 332.0h0M66.8 332.0h0M69.0 332.0h0M71.3 332.0h0M73.6 332.0h0M75.8 332.0h0M78.1 332.0h0M80.4 332.0h0M82.6 332.0h0M84.9 332.0h0M87.1 332.0h0M89.4 332.0h0M91.7 332.0h0M93.9 332.0h0M96.2 332.0h0M62.4 337.3h0M64.7 337.3h0M67.0 337.3h0M69.3 337.3h0M71.5 337.3h0M73.8 337.3h0M76.1 337.3h0M78.4 337.3h0M80.7 337.3h0M83.0 337.3h0M85.3 337.3h0M87.6 337.3h0M89.8 337.3h0M92.1 337.3h0M94.4 337.3h0M96.7 337.3h0M99.0 337.3h0" stroke="#6f88b8" stroke-opacity="0.9" stroke-width="2.1" stroke-linecap="round"/>
<path d="M79.6 295.1h0M81.9 295.1h0M79.6 300.4h0M81.9 300.4h0M80.8 305.9h0M77.2 311.2h0M79.5 311.2h0M81.9 311.2h0M84.2 311.2h0M73.6 316.5h0M76.0 316.5h0M78.3 316.5h0M80.7 316.5h0M83.1 316.5h0M85.4 316.5h0M87.8 316.5h0M74.5 321.7h0M77.0 321.7h0M79.5 321.7h0M82.0 321.7h0M84.5 321.7h0M87.0 321.7h0M65.6 327.0h0M67.9 327.0h0M70.2 327.0h0M72.4 327.0h0M74.7 327.0h0M77.0 327.0h0M79.3 327.0h0M81.5 327.0h0M83.8 327.0h0M86.1 327.0h0M88.4 327.0h0M90.6 327.0h0M92.9 327.0h0M95.2 327.0h0M64.5 332.0h0M66.8 332.0h0M69.0 332.0h0M71.3 332.0h0M73.6 332.0h0M75.8 332.0h0M78.1 332.0h0M80.4 332.0h0M82.6 332.0h0M84.9 332.0h0M87.1 332.0h0M89.4 332.0h0M91.7 332.0h0M93.9 332.0h0M96.2 332.0h0M62.4 337.3h0M64.7 337.3h0M67.0 337.3h0M69.3 337.3h0M71.5 337.3h0M73.8 337.3h0M76.1 337.3h0M78.4 337.3h0M80.7 337.3h0M83.0 337.3h0M85.3 337.3h0M87.6 337.3h0M89.8 337.3h0M92.1 337.3h0M94.4 337.3h0M96.7 337.3h0M99.0 337.3h0" stroke="#bcc8e2" stroke-width="1.0" stroke-linecap="round"/>
<path d="M60.90 329.80H100.50" stroke="#111" stroke-width="1.9"/>
<path d="M80.70 319.20V340.40M70.90 319.20H90.50M70.90 340.40H90.50" stroke="#111" stroke-width="1.1"/>
<path d="M134.3 289.9h0M136.6 289.9h0M138.9 289.9h0M141.3 289.9h0M143.6 289.9h0M145.9 289.9h0M121.0 295.1h0M123.2 295.1h0M125.5 295.1h0M127.7 295.1h0M129.9 295.1h0M132.2 295.1h0M134.4 295.1h0M136.6 295.1h0M138.9 295.1h0M141.1 295.1h0M143.4 295.1h0M145.6 295.1h0M147.8 295.1h0M150.1 295.1h0M152.3 295.1h0M154.5 295.1h0M156.8 295.1h0M159.0 295.1h0M128.0 300.4h0M130.4 300.4h0M132.8 300.4h0M135.1 300.4h0M137.5 300.4h0M139.9 300.4h0M142.3 300.4h0M144.7 300.4h0M147.0 300.4h0M149.4 300.4h0M151.8 300.4h0M130.7 305.9h0M133.0 305.9h0M135.2 305.9h0M137.5 305.9h0M139.8 305.9h0M142.1 305.9h0M144.3 305.9h0M146.6 305.9h0M148.9 305.9h0M121.0 311.2h0M122.6 311.2h0M124.2 311.2h0M125.8 311.2h0M127.3 311.2h0M128.9 311.2h0M130.5 311.2h0M132.1 311.2h0M133.7 311.2h0M135.2 311.2h0M136.8 311.2h0M138.4 311.2h0M140.0 311.2h0M141.6 311.2h0M143.2 311.2h0M144.8 311.2h0M146.3 311.2h0M147.9 311.2h0M149.5 311.2h0M151.1 311.2h0M152.7 311.2h0M154.2 311.2h0M155.8 311.2h0M157.4 311.2h0M159.0 311.2h0M121.0 316.5h0M122.6 316.5h0M124.2 316.5h0M125.8 316.5h0M127.3 316.5h0M128.9 316.5h0M130.5 316.5h0M132.1 316.5h0M133.7 316.5h0M135.2 316.5h0M136.8 316.5h0M138.4 316.5h0M140.0 316.5h0M141.6 316.5h0M143.2 316.5h0M144.8 316.5h0M146.3 316.5h0M147.9 316.5h0M149.5 316.5h0M151.1 316.5h0M152.7 316.5h0M154.2 316.5h0M155.8 316.5h0M157.4 316.5h0M159.0 316.5h0M121.0 321.5h0M122.6 321.5h0M124.2 321.5h0M125.8 321.5h0M127.3 321.5h0M128.9 321.5h0M130.5 321.5h0M132.1 321.5h0M133.7 321.5h0M135.2 321.5h0M136.8 321.5h0M138.4 321.5h0M140.0 321.5h0M141.6 321.5h0M143.2 321.5h0M144.8 321.5h0M146.3 321.5h0M147.9 321.5h0M149.5 321.5h0M151.1 321.5h0M152.7 321.5h0M154.2 321.5h0M155.8 321.5h0M157.4 321.5h0M159.0 321.5h0M121.0 326.7h0M122.6 326.7h0M124.2 326.7h0M125.8 326.7h0M127.3 326.7h0M128.9 326.7h0M130.5 326.7h0M132.1 326.7h0M133.7 326.7h0M135.2 326.7h0M136.8 326.7h0M138.4 326.7h0M140.0 326.7h0M141.6 326.7h0M143.2 326.7h0M144.8 326.7h0M146.3 326.7h0M147.9 326.7h0M149.5 326.7h0M151.1 326.7h0M152.7 326.7h0M154.2 326.7h0M155.8 326.7h0M157.4 326.7h0M159.0 326.7h0M121.0 332.3h0M122.6 332.3h0M124.2 332.3h0M125.8 332.3h0M127.3 332.3h0M128.9 332.3h0M130.5 332.3h0M132.1 332.3h0M133.7 332.3h0M135.2 332.3h0M136.8 332.3h0M138.4 332.3h0M140.0 332.3h0M141.6 332.3h0M143.2 332.3h0M144.8 332.3h0M146.3 332.3h0M147.9 332.3h0M149.5 332.3h0M151.1 332.3h0M152.7 332.3h0M154.2 332.3h0M155.8 332.3h0M157.4 332.3h0M159.0 332.3h0M121.0 337.6h0M122.6 337.6h0M124.2 337.6h0M125.8 337.6h0M127.3 337.6h0M128.9 337.6h0M130.5 337.6h0M132.1 337.6h0M133.7 337.6h0M135.2 337.6h0M136.8 337.6h0M138.4 337.6h0M140.0 337.6h0M141.6 337.6h0M143.2 337.6h0M144.8 337.6h0M146.3 337.6h0M147.9 337.6h0M149.5 337.6h0M151.1 337.6h0M152.7 337.6h0M154.2 337.6h0M155.8 337.6h0M157.4 337.6h0M159.0 337.6h0" stroke="#cf5f7f" stroke-opacity="0.9" stroke-width="2.1" stroke-linecap="round"/>
<path d="M134.3 289.9h0M136.6 289.9h0M138.9 289.9h0M141.3 289.9h0M143.6 289.9h0M145.9 289.9h0M121.0 295.1h0M123.2 295.1h0M125.5 295.1h0M127.7 295.1h0M129.9 295.1h0M132.2 295.1h0M134.4 295.1h0M136.6 295.1h0M138.9 295.1h0M141.1 295.1h0M143.4 295.1h0M145.6 295.1h0M147.8 295.1h0M150.1 295.1h0M152.3 295.1h0M154.5 295.1h0M156.8 295.1h0M159.0 295.1h0M128.0 300.4h0M130.4 300.4h0M132.8 300.4h0M135.1 300.4h0M137.5 300.4h0M139.9 300.4h0M142.3 300.4h0M144.7 300.4h0M147.0 300.4h0M149.4 300.4h0M151.8 300.4h0M130.7 305.9h0M133.0 305.9h0M135.2 305.9h0M137.5 305.9h0M139.8 305.9h0M142.1 305.9h0M144.3 305.9h0M146.6 305.9h0M148.9 305.9h0M121.0 311.2h0M122.6 311.2h0M124.2 311.2h0M125.8 311.2h0M127.3 311.2h0M128.9 311.2h0M130.5 311.2h0M132.1 311.2h0M133.7 311.2h0M135.2 311.2h0M136.8 311.2h0M138.4 311.2h0M140.0 311.2h0M141.6 311.2h0M143.2 311.2h0M144.8 311.2h0M146.3 311.2h0M147.9 311.2h0M149.5 311.2h0M151.1 311.2h0M152.7 311.2h0M154.2 311.2h0M155.8 311.2h0M157.4 311.2h0M159.0 311.2h0M121.0 316.5h0M122.6 316.5h0M124.2 316.5h0M125.8 316.5h0M127.3 316.5h0M128.9 316.5h0M130.5 316.5h0M132.1 316.5h0M133.7 316.5h0M135.2 316.5h0M136.8 316.5h0M138.4 316.5h0M140.0 316.5h0M141.6 316.5h0M143.2 316.5h0M144.8 316.5h0M146.3 316.5h0M147.9 316.5h0M149.5 316.5h0M151.1 316.5h0M152.7 316.5h0M154.2 316.5h0M155.8 316.5h0M157.4 316.5h0M159.0 316.5h0M121.0 321.5h0M122.6 321.5h0M124.2 321.5h0M125.8 321.5h0M127.3 321.5h0M128.9 321.5h0M130.5 321.5h0M132.1 321.5h0M133.7 321.5h0M135.2 321.5h0M136.8 321.5h0M138.4 321.5h0M140.0 321.5h0M141.6 321.5h0M143.2 321.5h0M144.8 321.5h0M146.3 321.5h0M147.9 321.5h0M149.5 321.5h0M151.1 321.5h0M152.7 321.5h0M154.2 321.5h0M155.8 321.5h0M157.4 321.5h0M159.0 321.5h0M121.0 326.7h0M122.6 326.7h0M124.2 326.7h0M125.8 326.7h0M127.3 326.7h0M128.9 326.7h0M130.5 326.7h0M132.1 326.7h0M133.7 326.7h0M135.2 326.7h0M136.8 326.7h0M138.4 326.7h0M140.0 326.7h0M141.6 326.7h0M143.2 326.7h0M144.8 326.7h0M146.3 326.7h0M147.9 326.7h0M149.5 326.7h0M151.1 326.7h0M152.7 326.7h0M154.2 326.7h0M155.8 326.7h0M157.4 326.7h0M159.0 326.7h0M121.0 332.3h0M122.6 332.3h0M124.2 332.3h0M125.8 332.3h0M127.3 332.3h0M128.9 332.3h0M130.5 332.3h0M132.1 332.3h0M133.7 332.3h0M135.2 332.3h0M136.8 332.3h0M138.4 332.3h0M140.0 332.3h0M141.6 332.3h0M143.2 332.3h0M144.8 332.3h0M146.3 332.3h0M147.9 332.3h0M149.5 332.3h0M151.1 332.3h0M152.7 332.3h0M154.2 332.3h0M155.8 332.3h0M157.4 332.3h0M159.0 332.3h0M121.0 337.6h0M122.6 337.6h0M124.2 337.6h0M125.8 337.6h0M127.3 337.6h0M128.9 337.6h0M130.5 337.6h0M132.1 337.6h0M133.7 337.6h0M135.2 337.6h0M136.8 337.6h0M138.4 337.6h0M140.0 337.6h0M141.6 337.6h0M143.2 337.6h0M144.8 337.6h0M146.3 337.6h0M147.9 337.6h0M149.5 337.6h0M151.1 337.6h0M152.7 337.6h0M154.2 337.6h0M155.8 337.6h0M157.4 337.6h0M159.0 337.6h0" stroke="#e9adbe" stroke-width="1.0" stroke-linecap="round"/>
<path d="M122.0 326.9H158.0" stroke="#b02848" stroke-width="1.0" stroke-opacity="0.8"/>
<path d="M122.0 337.6H158.0" stroke="#8a0a28" stroke-width="1.3" stroke-opacity="0.95"/>
<path d="M120.00 325.20H160.00" stroke="#111" stroke-width="1.9"/>
<path d="M140.00 311.60V337.40M130.50 311.60H149.50M130.50 337.40H149.50" stroke="#111" stroke-width="1.1"/>
<path d="M224.2 315.4h0M226.8 315.4h0M229.4 315.4h0M232.0 315.4h0M254.0 315.4h0M256.5 315.4h0M259.0 315.4h0M261.5 315.4h0M243.0 302.3h0M241.0 304.8h0M244.5 306.2h0M244.5 309.9h0M240.5 311.2h0M243.0 313.1h0M236.0 330.6h0M238.7 330.6h0M241.3 330.6h0M244.0 330.6h0M246.7 330.6h0M249.3 330.6h0M252.0 330.6h0M235.0 333.9h0M238.4 333.9h0M241.8 333.9h0M245.2 333.9h0M248.6 333.9h0M252.0 333.9h0M238.0 335.2h0M241.3 335.2h0M244.7 335.2h0M248.0 335.2h0M240.0 338.5h0M243.0 338.5h0M246.0 338.5h0" stroke="#6f88b8" stroke-opacity="0.9" stroke-width="2.1" stroke-linecap="round"/>
<path d="M224.2 315.4h0M226.8 315.4h0M229.4 315.4h0M232.0 315.4h0M254.0 315.4h0M256.5 315.4h0M259.0 315.4h0M261.5 315.4h0M243.0 302.3h0M241.0 304.8h0M244.5 306.2h0M244.5 309.9h0M240.5 311.2h0M243.0 313.1h0M236.0 330.6h0M238.7 330.6h0M241.3 330.6h0M244.0 330.6h0M246.7 330.6h0M249.3 330.6h0M252.0 330.6h0M235.0 333.9h0M238.4 333.9h0M241.8 333.9h0M245.2 333.9h0M248.6 333.9h0M252.0 333.9h0M238.0 335.2h0M241.3 335.2h0M244.7 335.2h0M248.0 335.2h0M240.0 338.5h0M243.0 338.5h0M246.0 338.5h0" stroke="#bcc8e2" stroke-width="1.0" stroke-linecap="round"/>
<path d="M228.0 317.6H258.0M227.3 319.9H258.5M227.1 322.1H259.0M227.4 324.4H258.2M227.2 326.6H258.8" stroke="#bcc8e2" stroke-width="2.4"/>
<g stroke="#6f88b8" stroke-opacity="0.95" stroke-width="1.4" stroke-dasharray="1.6 1.0"><path d="M228.0 317.6H258.0" stroke-dashoffset="1.2"/><path d="M227.3 319.9H258.5" stroke-dashoffset="1.7"/><path d="M227.1 322.1H259.0" stroke-dashoffset="1.8"/><path d="M227.4 324.4H258.2" stroke-dashoffset="2.2"/><path d="M227.2 326.6H258.8" stroke-dashoffset="2.6"/></g>
<path d="M223.00 322.80H263.20" stroke="#111" stroke-width="1.9"/>
<path d="M242.80 315.80V329.70M233.00 315.80H252.60M233.00 329.70H252.60" stroke="#111" stroke-width="1.1"/>
<path d="M296.5 298.6h0M299.5 298.6h0M305.0 298.6h0M308.0 298.6h0M299.0 300.9h0M303.0 300.9h0M307.0 300.9h0M300.0 303.2h0M303.0 303.2h0M306.0 303.2h0M289.0 307.4h0M292.4 307.4h0M295.8 307.4h0M299.1 307.4h0M302.5 307.4h0M305.9 307.4h0M309.2 307.4h0M312.6 307.4h0M316.0 307.4h0M285.0 309.2h0M287.9 309.2h0M290.8 309.2h0M293.8 309.2h0M296.7 309.2h0M299.6 309.2h0M302.5 309.2h0M305.4 309.2h0M308.3 309.2h0M311.2 309.2h0M314.2 309.2h0M317.1 309.2h0M320.0 309.2h0M288.0 328.2h0M290.7 328.2h0M293.5 328.2h0M296.2 328.2h0M298.9 328.2h0M301.6 328.2h0M304.4 328.2h0M307.1 328.2h0M309.8 328.2h0M312.5 328.2h0M315.3 328.2h0M318.0 328.2h0M290.0 330.5h0M292.9 330.5h0M295.8 330.5h0M298.7 330.5h0M301.6 330.5h0M304.4 330.5h0M307.3 330.5h0M310.2 330.5h0M313.1 330.5h0M316.0 330.5h0M293.0 332.8h0M295.9 332.8h0M298.7 332.8h0M301.6 332.8h0M304.4 332.8h0M307.3 332.8h0M310.1 332.8h0M313.0 332.8h0M297.0 335.1h0M300.0 335.1h0M303.0 335.1h0M306.0 335.1h0M309.0 335.1h0M300.0 337.4h0M305.0 337.4h0M302.5 339.7h0" stroke="#cf5f7f" stroke-opacity="0.9" stroke-width="2.1" stroke-linecap="round"/>
<path d="M296.5 298.6h0M299.5 298.6h0M305.0 298.6h0M308.0 298.6h0M299.0 300.9h0M303.0 300.9h0M307.0 300.9h0M300.0 303.2h0M303.0 303.2h0M306.0 303.2h0M289.0 307.4h0M292.4 307.4h0M295.8 307.4h0M299.1 307.4h0M302.5 307.4h0M305.9 307.4h0M309.2 307.4h0M312.6 307.4h0M316.0 307.4h0M285.0 309.2h0M287.9 309.2h0M290.8 309.2h0M293.8 309.2h0M296.7 309.2h0M299.6 309.2h0M302.5 309.2h0M305.4 309.2h0M308.3 309.2h0M311.2 309.2h0M314.2 309.2h0M317.1 309.2h0M320.0 309.2h0M288.0 328.2h0M290.7 328.2h0M293.5 328.2h0M296.2 328.2h0M298.9 328.2h0M301.6 328.2h0M304.4 328.2h0M307.1 328.2h0M309.8 328.2h0M312.5 328.2h0M315.3 328.2h0M318.0 328.2h0M290.0 330.5h0M292.9 330.5h0M295.8 330.5h0M298.7 330.5h0M301.6 330.5h0M304.4 330.5h0M307.3 330.5h0M310.2 330.5h0M313.1 330.5h0M316.0 330.5h0M293.0 332.8h0M295.9 332.8h0M298.7 332.8h0M301.6 332.8h0M304.4 332.8h0M307.3 332.8h0M310.1 332.8h0M313.0 332.8h0M297.0 335.1h0M300.0 335.1h0M303.0 335.1h0M306.0 335.1h0M309.0 335.1h0M300.0 337.4h0M305.0 337.4h0M302.5 339.7h0" stroke="#e9adbe" stroke-width="1.0" stroke-linecap="round"/>
<path d="M282.2 311.8H321.6M282.0 313.9H321.6M281.4 316.0H322.0M282.3 318.1H321.6M281.7 320.2H321.8M282.2 322.3H322.0M282.1 324.4H322.3" stroke="#e9adbe" stroke-width="2.4"/>
<g stroke="#cf5f7f" stroke-opacity="0.95" stroke-width="1.4" stroke-dasharray="1.6 1.0"><path d="M282.2 311.8H321.6" stroke-dashoffset="1.1"/><path d="M282.0 313.9H321.6" stroke-dashoffset="2.1"/><path d="M281.4 316.0H322.0" stroke-dashoffset="2.4"/><path d="M282.3 318.1H321.6" stroke-dashoffset="0.2"/><path d="M281.7 320.2H321.8" stroke-dashoffset="2.5"/><path d="M282.2 322.3H322.0" stroke-dashoffset="2.0"/><path d="M282.1 324.4H322.3" stroke-dashoffset="0.4"/></g>
<path d="M282.70 320.20H321.80" stroke="#111" stroke-width="1.9"/>
<path d="M302.00 312.80V326.40M292.20 312.80H311.80M292.20 326.40H311.80" stroke="#111" stroke-width="1.1"/>
<path d="M411.5 306.6h0M411.5 313.9h0M410.0 316.4h0M414.0 316.4h0M405.0 319.6h0M409.3 319.6h0M413.7 319.6h0M418.0 319.6h0M405.0 330.9h0M408.8 330.9h0M412.5 330.9h0M416.2 330.9h0M420.0 330.9h0M410.0 332.3h0M414.0 332.3h0" stroke="#6f88b8" stroke-opacity="0.9" stroke-width="2.1" stroke-linecap="round"/>
<path d="M411.5 306.6h0M411.5 313.9h0M410.0 316.4h0M414.0 316.4h0M405.0 319.6h0M409.3 319.6h0M413.7 319.6h0M418.0 319.6h0M405.0 330.9h0M408.8 330.9h0M412.5 330.9h0M416.2 330.9h0M420.0 330.9h0M410.0 332.3h0M414.0 332.3h0" stroke="#bcc8e2" stroke-width="1.0" stroke-linecap="round"/>
<path d="M391.3 322.2H431.9M391.9 324.2H431.6M391.5 326.2H432.2M391.8 328.2H432.2" stroke="#bcc8e2" stroke-width="2.4"/>
<g stroke="#6f88b8" stroke-opacity="0.95" stroke-width="1.4" stroke-dasharray="1.6 1.0"><path d="M391.3 322.2H431.9" stroke-dashoffset="1.3"/><path d="M391.9 324.2H431.6" stroke-dashoffset="1.8"/><path d="M391.5 326.2H432.2" stroke-dashoffset="0.6"/><path d="M391.8 328.2H432.2" stroke-dashoffset="1.9"/></g>
<path d="M391.80 325.10H431.00" stroke="#111" stroke-width="1.9"/>
<path d="M411.50 321.40V329.40M402.00 321.40H421.00M402.00 329.40H421.00" stroke="#111" stroke-width="1.1"/>
<path d="M468.5 295.7h0M473.0 295.7h0M471.0 301.5h0M468.0 303.9h0M474.0 303.9h0M466.0 306.6h0M471.5 306.6h0M477.0 306.6h0M466.0 308.9h0M471.0 308.9h0M476.0 308.9h0M463.0 311.7h0M468.3 311.7h0M473.7 311.7h0M479.0 311.7h0M464.0 313.5h0M467.5 313.5h0M471.0 313.5h0M474.5 313.5h0M478.0 313.5h0M452.0 315.9h0M455.0 315.9h0M458.0 315.9h0M461.0 315.9h0M481.0 315.9h0M483.7 315.9h0M486.3 315.9h0M489.0 315.9h0M468.0 315.9h0M471.0 315.9h0M474.0 315.9h0M462.0 330.6h0M464.9 330.6h0M467.7 330.6h0M470.6 330.6h0M473.4 330.6h0M476.3 330.6h0M479.1 330.6h0M482.0 330.6h0M468.0 332.3h0M471.5 332.3h0M475.0 332.3h0" stroke="#cf5f7f" stroke-opacity="0.9" stroke-width="2.1" stroke-linecap="round"/>
<path d="M468.5 295.7h0M473.0 295.7h0M471.0 301.5h0M468.0 303.9h0M474.0 303.9h0M466.0 306.6h0M471.5 306.6h0M477.0 306.6h0M466.0 308.9h0M471.0 308.9h0M476.0 308.9h0M463.0 311.7h0M468.3 311.7h0M473.7 311.7h0M479.0 311.7h0M464.0 313.5h0M467.5 313.5h0M471.0 313.5h0M474.5 313.5h0M478.0 313.5h0M452.0 315.9h0M455.0 315.9h0M458.0 315.9h0M461.0 315.9h0M481.0 315.9h0M483.7 315.9h0M486.3 315.9h0M489.0 315.9h0M468.0 315.9h0M471.0 315.9h0M474.0 315.9h0M462.0 330.6h0M464.9 330.6h0M467.7 330.6h0M470.6 330.6h0M473.4 330.6h0M476.3 330.6h0M479.1 330.6h0M482.0 330.6h0M468.0 332.3h0M471.5 332.3h0M475.0 332.3h0" stroke="#e9adbe" stroke-width="1.0" stroke-linecap="round"/>
<path d="M450.8 318.4H491.4M450.7 320.7H490.9M450.9 323.0H491.8M451.0 325.3H491.2M450.7 327.6H491.0" stroke="#e4a5b7" stroke-width="2.4"/>
<g stroke="#a8304f" stroke-opacity="0.95" stroke-width="1.4" stroke-dasharray="1.6 1.0"><path d="M450.8 318.4H491.4" stroke-dashoffset="2.5"/><path d="M450.7 320.7H490.9" stroke-dashoffset="2.3"/><path d="M450.9 323.0H491.8" stroke-dashoffset="0.9"/><path d="M451.0 325.3H491.2" stroke-dashoffset="0.2"/><path d="M450.7 327.6H491.0" stroke-dashoffset="1.2"/></g>
<path d="M450.50 323.40H490.70" stroke="#111" stroke-width="1.9"/>
<path d="M469.50 317.50V329.20M460.00 317.50H479.00M460.00 329.20H479.00" stroke="#111" stroke-width="1.1"/>
<path d="M63.0 434.3h0M65.4 434.3h0M67.7 434.3h0M70.1 434.3h0M72.4 434.3h0M74.8 434.3h0M77.1 434.3h0M79.5 434.3h0M81.8 434.3h0M84.2 434.3h0M86.5 434.3h0M88.9 434.3h0M91.2 434.3h0M93.6 434.3h0M95.9 434.3h0M98.3 434.3h0M64.5 438.3h0M66.8 438.3h0M69.2 438.3h0M71.5 438.3h0M73.9 438.3h0M76.2 438.3h0M78.6 438.3h0M80.9 438.3h0M83.2 438.3h0M85.6 438.3h0M87.9 438.3h0M90.3 438.3h0M92.6 438.3h0M95.0 438.3h0M97.3 438.3h0M68.7 442.3h0M71.1 442.3h0M73.4 442.3h0M75.8 442.3h0M78.2 442.3h0M80.5 442.3h0M82.9 442.3h0M85.2 442.3h0M87.6 442.3h0M90.0 442.3h0M92.3 442.3h0M94.7 442.3h0M73.0 446.4h0M75.3 446.4h0M77.6 446.4h0M79.9 446.4h0M82.1 446.4h0M84.4 446.4h0M86.7 446.4h0M89.0 446.4h0M64.2 450.2h0M66.5 450.2h0M68.9 450.2h0M71.2 450.2h0M73.6 450.2h0M75.9 450.2h0M78.3 450.2h0M80.6 450.2h0M82.9 450.2h0M85.3 450.2h0M87.6 450.2h0M90.0 450.2h0M92.3 450.2h0M94.7 450.2h0M97.0 450.2h0M69.0 454.4h0M71.3 454.4h0M73.7 454.4h0M76.0 454.4h0M78.4 454.4h0M80.8 454.4h0M83.1 454.4h0M85.5 454.4h0M87.8 454.4h0M90.2 454.4h0M92.5 454.4h0M61.5 458.4h0M63.1 458.4h0M64.7 458.4h0M66.3 458.4h0M67.9 458.4h0M69.5 458.4h0M71.1 458.4h0M72.7 458.4h0M74.3 458.4h0M75.9 458.4h0M77.5 458.4h0M79.1 458.4h0M80.8 458.4h0M82.4 458.4h0M84.0 458.4h0M85.6 458.4h0M87.2 458.4h0M88.8 458.4h0M90.4 458.4h0M92.0 458.4h0M93.6 458.4h0M95.2 458.4h0M96.8 458.4h0M98.4 458.4h0M100.0 458.4h0M62.0 461.9h0M63.6 461.9h0M65.2 461.9h0M66.8 461.9h0M68.4 461.9h0M70.0 461.9h0M71.7 461.9h0M73.3 461.9h0M74.9 461.9h0M76.5 461.9h0M78.1 461.9h0M79.7 461.9h0M81.3 461.9h0M82.9 461.9h0M84.5 461.9h0M86.1 461.9h0M87.7 461.9h0M89.3 461.9h0M91.0 461.9h0M92.6 461.9h0M94.2 461.9h0M95.8 461.9h0M97.4 461.9h0M99.0 461.9h0M61.5 466.4h0M63.1 466.4h0M64.7 466.4h0M66.3 466.4h0M67.9 466.4h0M69.5 466.4h0M71.1 466.4h0M72.7 466.4h0M74.3 466.4h0M75.9 466.4h0M77.5 466.4h0M79.1 466.4h0M80.8 466.4h0M82.4 466.4h0M84.0 466.4h0M85.6 466.4h0M87.2 466.4h0M88.8 466.4h0M90.4 466.4h0M92.0 466.4h0M93.6 466.4h0M95.2 466.4h0M96.8 466.4h0M98.4 466.4h0M100.0 466.4h0M61.5 469.9h0M63.1 469.9h0M64.7 469.9h0M66.3 469.9h0M67.9 469.9h0M69.5 469.9h0M71.1 469.9h0M72.7 469.9h0M74.3 469.9h0M75.9 469.9h0M77.5 469.9h0M79.1 469.9h0M80.8 469.9h0M82.4 469.9h0M84.0 469.9h0M85.6 469.9h0M87.2 469.9h0M88.8 469.9h0M90.4 469.9h0M92.0 469.9h0M93.6 469.9h0M95.2 469.9h0M96.8 469.9h0M98.4 469.9h0M100.0 469.9h0M64.0 472.1h0M67.0 472.1h0M70.0 472.1h0M92.0 472.1h0M95.0 472.1h0M98.0 472.1h0M69.0 474.5h0M70.5 474.5h0M72.1 474.5h0M73.7 474.5h0M75.2 474.5h0M76.8 474.5h0M78.3 474.5h0M79.9 474.5h0M81.4 474.5h0M83.0 474.5h0M84.5 474.5h0M86.1 474.5h0M87.6 474.5h0M89.2 474.5h0M90.7 474.5h0" stroke="#6f88b8" stroke-opacity="0.9" stroke-width="2.1" stroke-linecap="round"/>
<path d="M63.0 434.3h0M65.4 434.3h0M67.7 434.3h0M70.1 434.3h0M72.4 434.3h0M74.8 434.3h0M77.1 434.3h0M79.5 434.3h0M81.8 434.3h0M84.2 434.3h0M86.5 434.3h0M88.9 434.3h0M91.2 434.3h0M93.6 434.3h0M95.9 434.3h0M98.3 434.3h0M64.5 438.3h0M66.8 438.3h0M69.2 438.3h0M71.5 438.3h0M73.9 438.3h0M76.2 438.3h0M78.6 438.3h0M80.9 438.3h0M83.2 438.3h0M85.6 438.3h0M87.9 438.3h0M90.3 438.3h0M92.6 438.3h0M95.0 438.3h0M97.3 438.3h0M68.7 442.3h0M71.1 442.3h0M73.4 442.3h0M75.8 442.3h0M78.2 442.3h0M80.5 442.3h0M82.9 442.3h0M85.2 442.3h0M87.6 442.3h0M90.0 442.3h0M92.3 442.3h0M94.7 442.3h0M73.0 446.4h0M75.3 446.4h0M77.6 446.4h0M79.9 446.4h0M82.1 446.4h0M84.4 446.4h0M86.7 446.4h0M89.0 446.4h0M64.2 450.2h0M66.5 450.2h0M68.9 450.2h0M71.2 450.2h0M73.6 450.2h0M75.9 450.2h0M78.3 450.2h0M80.6 450.2h0M82.9 450.2h0M85.3 450.2h0M87.6 450.2h0M90.0 450.2h0M92.3 450.2h0M94.7 450.2h0M97.0 450.2h0M69.0 454.4h0M71.3 454.4h0M73.7 454.4h0M76.0 454.4h0M78.4 454.4h0M80.8 454.4h0M83.1 454.4h0M85.5 454.4h0M87.8 454.4h0M90.2 454.4h0M92.5 454.4h0M61.5 458.4h0M63.1 458.4h0M64.7 458.4h0M66.3 458.4h0M67.9 458.4h0M69.5 458.4h0M71.1 458.4h0M72.7 458.4h0M74.3 458.4h0M75.9 458.4h0M77.5 458.4h0M79.1 458.4h0M80.8 458.4h0M82.4 458.4h0M84.0 458.4h0M85.6 458.4h0M87.2 458.4h0M88.8 458.4h0M90.4 458.4h0M92.0 458.4h0M93.6 458.4h0M95.2 458.4h0M96.8 458.4h0M98.4 458.4h0M100.0 458.4h0M62.0 461.9h0M63.6 461.9h0M65.2 461.9h0M66.8 461.9h0M68.4 461.9h0M70.0 461.9h0M71.7 461.9h0M73.3 461.9h0M74.9 461.9h0M76.5 461.9h0M78.1 461.9h0M79.7 461.9h0M81.3 461.9h0M82.9 461.9h0M84.5 461.9h0M86.1 461.9h0M87.7 461.9h0M89.3 461.9h0M91.0 461.9h0M92.6 461.9h0M94.2 461.9h0M95.8 461.9h0M97.4 461.9h0M99.0 461.9h0M61.5 466.4h0M63.1 466.4h0M64.7 466.4h0M66.3 466.4h0M67.9 466.4h0M69.5 466.4h0M71.1 466.4h0M72.7 466.4h0M74.3 466.4h0M75.9 466.4h0M77.5 466.4h0M79.1 466.4h0M80.8 466.4h0M82.4 466.4h0M84.0 466.4h0M85.6 466.4h0M87.2 466.4h0M88.8 466.4h0M90.4 466.4h0M92.0 466.4h0M93.6 466.4h0M95.2 466.4h0M96.8 466.4h0M98.4 466.4h0M100.0 466.4h0M61.5 469.9h0M63.1 469.9h0M64.7 469.9h0M66.3 469.9h0M67.9 469.9h0M69.5 469.9h0M71.1 469.9h0M72.7 469.9h0M74.3 469.9h0M75.9 469.9h0M77.5 469.9h0M79.1 469.9h0M80.8 469.9h0M82.4 469.9h0M84.0 469.9h0M85.6 469.9h0M87.2 469.9h0M88.8 469.9h0M90.4 469.9h0M92.0 469.9h0M93.6 469.9h0M95.2 469.9h0M96.8 469.9h0M98.4 469.9h0M100.0 469.9h0M64.0 472.1h0M67.0 472.1h0M70.0 472.1h0M92.0 472.1h0M95.0 472.1h0M98.0 472.1h0M69.0 474.5h0M70.5 474.5h0M72.1 474.5h0M73.7 474.5h0M75.2 474.5h0M76.8 474.5h0M78.3 474.5h0M79.9 474.5h0M81.4 474.5h0M83.0 474.5h0M84.5 474.5h0M86.1 474.5h0M87.6 474.5h0M89.2 474.5h0M90.7 474.5h0" stroke="#bcc8e2" stroke-width="1.0" stroke-linecap="round"/>
<path d="M69.0 474.5H90.7" stroke="#1d2f6a" stroke-width="1.3" stroke-opacity="0.95"/>
<path d="M61.00 464.10H100.50" stroke="#111" stroke-width="1.9"/>
<path d="M80.70 451.80V475.30M70.90 451.80H90.50M70.90 475.30H90.50" stroke="#111" stroke-width="1.1"/>
<path d="M132.8 434.3h0M135.2 434.3h0M137.5 434.3h0M139.9 434.3h0M142.3 434.3h0M144.6 434.3h0M147.0 434.3h0M132.8 438.3h0M135.2 438.3h0M137.5 438.3h0M139.9 438.3h0M142.3 438.3h0M144.6 438.3h0M147.0 438.3h0M137.7 442.3h0M140.0 442.3h0M142.3 442.3h0M138.0 446.2h0M140.0 446.2h0M142.0 446.2h0M137.5 450.2h0M140.0 450.2h0M142.5 450.2h0M135.0 454.0h0M137.6 454.0h0M140.2 454.0h0M142.7 454.0h0M145.3 454.0h0M134.0 458.0h0M136.4 458.0h0M138.8 458.0h0M141.2 458.0h0M143.6 458.0h0M146.0 458.0h0M133.6 462.0h0M136.1 462.0h0M138.6 462.0h0M141.0 462.0h0M143.5 462.0h0M146.0 462.0h0M133.0 466.0h0M135.3 466.0h0M137.7 466.0h0M140.0 466.0h0M142.3 466.0h0M144.7 466.0h0M147.0 466.0h0M128.0 470.0h0M130.2 470.0h0M132.4 470.0h0M134.6 470.0h0M136.8 470.0h0M139.0 470.0h0M141.2 470.0h0M143.4 470.0h0M145.6 470.0h0M147.8 470.0h0M150.0 470.0h0M124.8 473.5h0M127.1 473.5h0M129.4 473.5h0M131.7 473.5h0M134.0 473.5h0M136.3 473.5h0M138.6 473.5h0M141.0 473.5h0M143.3 473.5h0M145.6 473.5h0M147.9 473.5h0M150.2 473.5h0M152.5 473.5h0M154.8 473.5h0" stroke="#cf5f7f" stroke-opacity="0.9" stroke-width="2.1" stroke-linecap="round"/>
<path d="M132.8 434.3h0M135.2 434.3h0M137.5 434.3h0M139.9 434.3h0M142.3 434.3h0M144.6 434.3h0M147.0 434.3h0M132.8 438.3h0M135.2 438.3h0M137.5 438.3h0M139.9 438.3h0M142.3 438.3h0M144.6 438.3h0M147.0 438.3h0M137.7 442.3h0M140.0 442.3h0M142.3 442.3h0M138.0 446.2h0M140.0 446.2h0M142.0 446.2h0M137.5 450.2h0M140.0 450.2h0M142.5 450.2h0M135.0 454.0h0M137.6 454.0h0M140.2 454.0h0M142.7 454.0h0M145.3 454.0h0M134.0 458.0h0M136.4 458.0h0M138.8 458.0h0M141.2 458.0h0M143.6 458.0h0M146.0 458.0h0M133.6 462.0h0M136.1 462.0h0M138.6 462.0h0M141.0 462.0h0M143.5 462.0h0M146.0 462.0h0M133.0 466.0h0M135.3 466.0h0M137.7 466.0h0M140.0 466.0h0M142.3 466.0h0M144.7 466.0h0M147.0 466.0h0M128.0 470.0h0M130.2 470.0h0M132.4 470.0h0M134.6 470.0h0M136.8 470.0h0M139.0 470.0h0M141.2 470.0h0M143.4 470.0h0M145.6 470.0h0M147.8 470.0h0M150.0 470.0h0M124.8 473.5h0M127.1 473.5h0M129.4 473.5h0M131.7 473.5h0M134.0 473.5h0M136.3 473.5h0M138.6 473.5h0M141.0 473.5h0M143.3 473.5h0M145.6 473.5h0M147.9 473.5h0M150.2 473.5h0M152.5 473.5h0M154.8 473.5h0" stroke="#e9adbe" stroke-width="1.0" stroke-linecap="round"/>
<path d="M120.10 458.80H160.00" stroke="#111" stroke-width="1.9"/>
<path d="M140.00 445.70V472.60M130.50 445.70H149.50M130.50 472.60H149.50" stroke="#111" stroke-width="1.1"/>
<path d="M233.7 434.3h0M236.1 434.3h0M238.5 434.3h0M240.9 434.3h0M243.2 434.3h0M245.6 434.3h0M248.0 434.3h0M250.4 434.3h0M252.8 434.3h0M238.6 438.3h0M240.8 438.3h0M243.1 438.3h0M245.3 438.3h0M247.5 438.3h0M235.9 442.3h0M238.4 442.3h0M240.8 442.3h0M243.3 442.3h0M245.8 442.3h0M248.2 442.3h0M250.7 442.3h0M235.0 450.2h0M237.3 450.2h0M239.6 450.2h0M241.9 450.2h0M244.1 450.2h0M246.4 450.2h0M248.7 450.2h0M251.0 450.2h0M238.6 454.0h0M240.8 454.0h0M243.1 454.0h0M245.3 454.0h0M247.5 454.0h0M234.8 458.0h0M237.2 458.0h0M239.6 458.0h0M242.0 458.0h0M244.5 458.0h0M246.9 458.0h0M249.3 458.0h0M251.7 458.0h0M227.4 462.0h0M229.7 462.0h0M232.1 462.0h0M234.4 462.0h0M236.8 462.0h0M239.1 462.0h0M241.5 462.0h0M243.8 462.0h0M246.1 462.0h0M248.5 462.0h0M250.8 462.0h0M253.2 462.0h0M255.5 462.0h0M257.9 462.0h0M260.2 462.0h0M224.2 466.0h0M226.4 466.0h0M228.7 466.0h0M230.9 466.0h0M233.2 466.0h0M235.4 466.0h0M237.6 466.0h0M239.9 466.0h0M242.1 466.0h0M244.4 466.0h0M246.6 466.0h0M248.9 466.0h0M251.1 466.0h0M253.3 466.0h0M255.6 466.0h0M257.8 466.0h0M260.1 466.0h0M262.3 466.0h0M223.2 470.0h0M225.6 470.0h0M227.9 470.0h0M230.3 470.0h0M232.6 470.0h0M235.0 470.0h0M237.4 470.0h0M239.7 470.0h0M242.1 470.0h0M244.4 470.0h0M246.8 470.0h0M249.1 470.0h0M251.5 470.0h0M253.9 470.0h0M256.2 470.0h0M258.6 470.0h0M260.9 470.0h0M263.3 470.0h0M224.0 472.1h0M226.7 472.1h0M229.3 472.1h0M232.0 472.1h0M254.0 472.1h0M256.7 472.1h0M259.3 472.1h0M262.0 472.1h0M232.7 474.5h0M234.9 474.5h0M237.2 474.5h0M239.4 474.5h0M241.6 474.5h0M243.9 474.5h0M246.1 474.5h0M248.3 474.5h0M250.6 474.5h0M252.8 474.5h0" stroke="#6f88b8" stroke-opacity="0.9" stroke-width="2.1" stroke-linecap="round"/>
<path d="M233.7 434.3h0M236.1 434.3h0M238.5 434.3h0M240.9 434.3h0M243.2 434.3h0M245.6 434.3h0M248.0 434.3h0M250.4 434.3h0M252.8 434.3h0M238.6 438.3h0M240.8 438.3h0M243.1 438.3h0M245.3 438.3h0M247.5 438.3h0M235.9 442.3h0M238.4 442.3h0M240.8 442.3h0M243.3 442.3h0M245.8 442.3h0M248.2 442.3h0M250.7 442.3h0M235.0 450.2h0M237.3 450.2h0M239.6 450.2h0M241.9 450.2h0M244.1 450.2h0M246.4 450.2h0M248.7 450.2h0M251.0 450.2h0M238.6 454.0h0M240.8 454.0h0M243.1 454.0h0M245.3 454.0h0M247.5 454.0h0M234.8 458.0h0M237.2 458.0h0M239.6 458.0h0M242.0 458.0h0M244.5 458.0h0M246.9 458.0h0M249.3 458.0h0M251.7 458.0h0M227.4 462.0h0M229.7 462.0h0M232.1 462.0h0M234.4 462.0h0M236.8 462.0h0M239.1 462.0h0M241.5 462.0h0M243.8 462.0h0M246.1 462.0h0M248.5 462.0h0M250.8 462.0h0M253.2 462.0h0M255.5 462.0h0M257.9 462.0h0M260.2 462.0h0M224.2 466.0h0M226.4 466.0h0M228.7 466.0h0M230.9 466.0h0M233.2 466.0h0M235.4 466.0h0M237.6 466.0h0M239.9 466.0h0M242.1 466.0h0M244.4 466.0h0M246.6 466.0h0M248.9 466.0h0M251.1 466.0h0M253.3 466.0h0M255.6 466.0h0M257.8 466.0h0M260.1 466.0h0M262.3 466.0h0M223.2 470.0h0M225.6 470.0h0M227.9 470.0h0M230.3 470.0h0M232.6 470.0h0M235.0 470.0h0M237.4 470.0h0M239.7 470.0h0M242.1 470.0h0M244.4 470.0h0M246.8 470.0h0M249.1 470.0h0M251.5 470.0h0M253.9 470.0h0M256.2 470.0h0M258.6 470.0h0M260.9 470.0h0M263.3 470.0h0M224.0 472.1h0M226.7 472.1h0M229.3 472.1h0M232.0 472.1h0M254.0 472.1h0M256.7 472.1h0M259.3 472.1h0M262.0 472.1h0M232.7 474.5h0M234.9 474.5h0M237.2 474.5h0M239.4 474.5h0M241.6 474.5h0M243.9 474.5h0M246.1 474.5h0M248.3 474.5h0M250.6 474.5h0M252.8 474.5h0" stroke="#bcc8e2" stroke-width="1.0" stroke-linecap="round"/>
<path d="M233.0 474.5H252.5" stroke="#1d2f6a" stroke-width="1.3" stroke-opacity="0.95"/>
<path d="M223.20 464.70H263.30" stroke="#111" stroke-width="1.9"/>
<path d="M242.95 452.50V476.60M233.10 452.50H252.80M233.10 476.60H252.80" stroke="#111" stroke-width="1.1"/>
<path d="M287.2 434.3h0M289.5 434.3h0M291.9 434.3h0M294.2 434.3h0M296.6 434.3h0M298.9 434.3h0M301.3 434.3h0M303.6 434.3h0M306.0 434.3h0M308.3 434.3h0M310.7 434.3h0M313.0 434.3h0M315.4 434.3h0M317.7 434.3h0M283.4 438.3h0M285.6 438.3h0M287.9 438.3h0M290.1 438.3h0M292.4 438.3h0M294.6 438.3h0M296.8 438.3h0M299.1 438.3h0M301.3 438.3h0M303.6 438.3h0M305.8 438.3h0M308.1 438.3h0M310.3 438.3h0M312.5 438.3h0M314.8 438.3h0M317.0 438.3h0M319.3 438.3h0M321.5 438.3h0M293.0 442.3h0M295.4 442.3h0M297.8 442.3h0M300.1 442.3h0M302.5 442.3h0M304.9 442.3h0M307.2 442.3h0M309.6 442.3h0M312.0 442.3h0M291.9 446.2h0M294.2 446.2h0M296.6 446.2h0M298.9 446.2h0M301.3 446.2h0M303.6 446.2h0M306.0 446.2h0M308.3 446.2h0M310.7 446.2h0M313.0 446.2h0M289.8 450.2h0M292.1 450.2h0M294.4 450.2h0M296.7 450.2h0M299.0 450.2h0M301.3 450.2h0M303.5 450.2h0M305.8 450.2h0M308.1 450.2h0M310.4 450.2h0M312.7 450.2h0M315.0 450.2h0M291.9 454.0h0M294.2 454.0h0M296.6 454.0h0M298.9 454.0h0M301.3 454.0h0M303.6 454.0h0M306.0 454.0h0M308.3 454.0h0M310.7 454.0h0M313.0 454.0h0M283.4 458.0h0M285.0 458.0h0M286.5 458.0h0M288.1 458.0h0M289.7 458.0h0M291.2 458.0h0M292.8 458.0h0M294.4 458.0h0M295.9 458.0h0M297.5 458.0h0M299.1 458.0h0M300.6 458.0h0M302.2 458.0h0M303.8 458.0h0M305.3 458.0h0M306.9 458.0h0M308.5 458.0h0M310.0 458.0h0M311.6 458.0h0M313.2 458.0h0M314.7 458.0h0M316.3 458.0h0M317.9 458.0h0M319.4 458.0h0M321.0 458.0h0M282.4 462.0h0M284.0 462.0h0M285.6 462.0h0M287.2 462.0h0M288.8 462.0h0M290.4 462.0h0M292.0 462.0h0M293.6 462.0h0M295.2 462.0h0M296.8 462.0h0M298.4 462.0h0M300.0 462.0h0M301.6 462.0h0M303.3 462.0h0M304.9 462.0h0M306.5 462.0h0M308.1 462.0h0M309.7 462.0h0M311.3 462.0h0M312.9 462.0h0M314.5 462.0h0M316.1 462.0h0M317.7 462.0h0M319.3 462.0h0M320.9 462.0h0M322.5 462.0h0M282.4 466.0h0M284.0 466.0h0M285.6 466.0h0M287.2 466.0h0M288.8 466.0h0M290.4 466.0h0M292.0 466.0h0M293.6 466.0h0M295.2 466.0h0M296.8 466.0h0M298.4 466.0h0M300.0 466.0h0M301.6 466.0h0M303.3 466.0h0M304.9 466.0h0M306.5 466.0h0M308.1 466.0h0M309.7 466.0h0M311.3 466.0h0M312.9 466.0h0M314.5 466.0h0M316.1 466.0h0M317.7 466.0h0M319.3 466.0h0M320.9 466.0h0M322.5 466.0h0M282.4 470.0h0M284.0 470.0h0M285.6 470.0h0M287.2 470.0h0M288.8 470.0h0M290.4 470.0h0M292.0 470.0h0M293.6 470.0h0M295.2 470.0h0M296.8 470.0h0M298.4 470.0h0M300.0 470.0h0M301.6 470.0h0M303.3 470.0h0M304.9 470.0h0M306.5 470.0h0M308.1 470.0h0M309.7 470.0h0M311.3 470.0h0M312.9 470.0h0M314.5 470.0h0M316.1 470.0h0M317.7 470.0h0M319.3 470.0h0M320.9 470.0h0M322.5 470.0h0M283.0 472.1h0M285.3 472.1h0M287.7 472.1h0M290.0 472.1h0M314.0 472.1h0M316.7 472.1h0M319.3 472.1h0M322.0 472.1h0M288.7 474.5h0M290.3 474.5h0M292.0 474.5h0M293.6 474.5h0M295.3 474.5h0M296.9 474.5h0M298.6 474.5h0M300.2 474.5h0M301.9 474.5h0M303.5 474.5h0M305.1 474.5h0M306.8 474.5h0M308.4 474.5h0M310.1 474.5h0M311.7 474.5h0M313.4 474.5h0M315.0 474.5h0" stroke="#cf5f7f" stroke-opacity="0.9" stroke-width="2.1" stroke-linecap="round"/>
<path d="M287.2 434.3h0M289.5 434.3h0M291.9 434.3h0M294.2 434.3h0M296.6 434.3h0M298.9 434.3h0M301.3 434.3h0M303.6 434.3h0M306.0 434.3h0M308.3 434.3h0M310.7 434.3h0M313.0 434.3h0M315.4 434.3h0M317.7 434.3h0M283.4 438.3h0M285.6 438.3h0M287.9 438.3h0M290.1 438.3h0M292.4 438.3h0M294.6 438.3h0M296.8 438.3h0M299.1 438.3h0M301.3 438.3h0M303.6 438.3h0M305.8 438.3h0M308.1 438.3h0M310.3 438.3h0M312.5 438.3h0M314.8 438.3h0M317.0 438.3h0M319.3 438.3h0M321.5 438.3h0M293.0 442.3h0M295.4 442.3h0M297.8 442.3h0M300.1 442.3h0M302.5 442.3h0M304.9 442.3h0M307.2 442.3h0M309.6 442.3h0M312.0 442.3h0M291.9 446.2h0M294.2 446.2h0M296.6 446.2h0M298.9 446.2h0M301.3 446.2h0M303.6 446.2h0M306.0 446.2h0M308.3 446.2h0M310.7 446.2h0M313.0 446.2h0M289.8 450.2h0M292.1 450.2h0M294.4 450.2h0M296.7 450.2h0M299.0 450.2h0M301.3 450.2h0M303.5 450.2h0M305.8 450.2h0M308.1 450.2h0M310.4 450.2h0M312.7 450.2h0M315.0 450.2h0M291.9 454.0h0M294.2 454.0h0M296.6 454.0h0M298.9 454.0h0M301.3 454.0h0M303.6 454.0h0M306.0 454.0h0M308.3 454.0h0M310.7 454.0h0M313.0 454.0h0M283.4 458.0h0M285.0 458.0h0M286.5 458.0h0M288.1 458.0h0M289.7 458.0h0M291.2 458.0h0M292.8 458.0h0M294.4 458.0h0M295.9 458.0h0M297.5 458.0h0M299.1 458.0h0M300.6 458.0h0M302.2 458.0h0M303.8 458.0h0M305.3 458.0h0M306.9 458.0h0M308.5 458.0h0M310.0 458.0h0M311.6 458.0h0M313.2 458.0h0M314.7 458.0h0M316.3 458.0h0M317.9 458.0h0M319.4 458.0h0M321.0 458.0h0M282.4 462.0h0M284.0 462.0h0M285.6 462.0h0M287.2 462.0h0M288.8 462.0h0M290.4 462.0h0M292.0 462.0h0M293.6 462.0h0M295.2 462.0h0M296.8 462.0h0M298.4 462.0h0M300.0 462.0h0M301.6 462.0h0M303.3 462.0h0M304.9 462.0h0M306.5 462.0h0M308.1 462.0h0M309.7 462.0h0M311.3 462.0h0M312.9 462.0h0M314.5 462.0h0M316.1 462.0h0M317.7 462.0h0M319.3 462.0h0M320.9 462.0h0M322.5 462.0h0M282.4 466.0h0M284.0 466.0h0M285.6 466.0h0M287.2 466.0h0M288.8 466.0h0M290.4 466.0h0M292.0 466.0h0M293.6 466.0h0M295.2 466.0h0M296.8 466.0h0M298.4 466.0h0M300.0 466.0h0M301.6 466.0h0M303.3 466.0h0M304.9 466.0h0M306.5 466.0h0M308.1 466.0h0M309.7 466.0h0M311.3 466.0h0M312.9 466.0h0M314.5 466.0h0M316.1 466.0h0M317.7 466.0h0M319.3 466.0h0M320.9 466.0h0M322.5 466.0h0M282.4 470.0h0M284.0 470.0h0M285.6 470.0h0M287.2 470.0h0M288.8 470.0h0M290.4 470.0h0M292.0 470.0h0M293.6 470.0h0M295.2 470.0h0M296.8 470.0h0M298.4 470.0h0M300.0 470.0h0M301.6 470.0h0M303.3 470.0h0M304.9 470.0h0M306.5 470.0h0M308.1 470.0h0M309.7 470.0h0M311.3 470.0h0M312.9 470.0h0M314.5 470.0h0M316.1 470.0h0M317.7 470.0h0M319.3 470.0h0M320.9 470.0h0M322.5 470.0h0M283.0 472.1h0M285.3 472.1h0M287.7 472.1h0M290.0 472.1h0M314.0 472.1h0M316.7 472.1h0M319.3 472.1h0M322.0 472.1h0M288.7 474.5h0M290.3 474.5h0M292.0 474.5h0M293.6 474.5h0M295.3 474.5h0M296.9 474.5h0M298.6 474.5h0M300.2 474.5h0M301.9 474.5h0M303.5 474.5h0M305.1 474.5h0M306.8 474.5h0M308.4 474.5h0M310.1 474.5h0M311.7 474.5h0M313.4 474.5h0M315.0 474.5h0" stroke="#e9adbe" stroke-width="1.0" stroke-linecap="round"/>
<path d="M289.0 474.5H315.0" stroke="#8a0a28" stroke-width="1.3" stroke-opacity="0.95"/>
<path d="M283.00 462.00H322.50" stroke="#111" stroke-width="1.9"/>
<path d="M302.15 450.00V474.30M291.90 450.00H312.40M291.90 474.30H312.40" stroke="#111" stroke-width="1.1"/>
<path d="M408.9 425.8h2.8M410.3 424.4v2.8M412.1 425.8h2.8M413.5 424.4v2.8M410.1 431.5h2.8M411.5 430.1v2.8M411.6 433.8h2.8M413.0 432.4v2.8M407.6 436.2h2.8M409.0 434.8v2.8M412.6 436.2h2.8M414.0 434.8v2.8M406.6 438.5h2.8M408.0 437.1v2.8M410.6 438.5h2.8M412.0 437.1v2.8M414.6 438.5h2.8M416.0 437.1v2.8M408.6 440.6h2.8M410.0 439.2v2.8M412.6 440.6h2.8M414.0 439.2v2.8M403.6 441.7h2.8M405.0 440.3v2.8M410.1 441.7h2.8M411.5 440.3v2.8M416.6 441.7h2.8M418.0 440.3v2.8M398.6 443.7h2.8M400.0 442.3v2.8M402.6 443.7h2.8M404.0 442.3v2.8M406.6 443.7h2.8M408.0 442.3v2.8M410.6 443.7h2.8M412.0 442.3v2.8M414.6 443.7h2.8M416.0 442.3v2.8M418.6 443.7h2.8M420.0 442.3v2.8M397.6 446.0h2.8M399.0 444.6v2.8M401.8 446.0h2.8M403.2 444.6v2.8M405.9 446.0h2.8M407.3 444.6v2.8M410.1 446.0h2.8M411.5 444.6v2.8M414.3 446.0h2.8M415.7 444.6v2.8M418.4 446.0h2.8M419.8 444.6v2.8M422.6 446.0h2.8M424.0 444.6v2.8M398.6 461.2h2.8M400.0 459.8v2.8M402.0 461.2h2.8M403.4 459.8v2.8M405.5 461.2h2.8M406.9 459.8v2.8M408.9 461.2h2.8M410.3 459.8v2.8M412.3 461.2h2.8M413.7 459.8v2.8M415.7 461.2h2.8M417.1 459.8v2.8M419.2 461.2h2.8M420.6 459.8v2.8M422.6 461.2h2.8M424.0 459.8v2.8M405.6 462.3h2.8M407.0 460.9v2.8M408.6 462.3h2.8M410.0 460.9v2.8M411.6 462.3h2.8M413.0 460.9v2.8M414.6 462.3h2.8M416.0 460.9v2.8" stroke="#6f88b8" stroke-opacity="0.95" stroke-width="1.2"/>
<path d="M391.0 450.3H432.5M390.9 452.4H431.6M391.3 454.5H431.7M391.3 456.6H431.8M390.7 458.7H432.5" stroke="#a9b8d8" stroke-width="2.4"/>
<g stroke="#3f5894" stroke-opacity="0.95" stroke-width="1.4" stroke-dasharray="1.6 1.0"><path d="M391.0 450.3H432.5" stroke-dashoffset="0.4"/><path d="M390.9 452.4H431.6" stroke-dashoffset="0.4"/><path d="M391.3 454.5H431.7" stroke-dashoffset="1.4"/><path d="M391.3 456.6H431.8" stroke-dashoffset="2.0"/><path d="M390.7 458.7H432.5" stroke-dashoffset="2.3"/></g>
<path d="M391.80 454.30H431.50" stroke="#111" stroke-width="1.9"/>
<path d="M411.50 448.30V459.40M402.00 448.30H421.00M402.00 459.40H421.00" stroke="#111" stroke-width="1.1"/>
<path d="M469.6 434.0h2.8M471.0 432.6v2.8M467.6 436.2h2.8M469.0 434.8v2.8M471.6 436.2h2.8M473.0 434.8v2.8M467.1 438.1h2.8M468.5 436.7v2.8M467.6 441.5h2.8M469.0 440.1v2.8M470.1 441.5h2.8M471.5 440.1v2.8M472.6 441.5h2.8M474.0 440.1v2.8M466.6 443.2h2.8M468.0 441.8v2.8M469.6 443.2h2.8M471.0 441.8v2.8M472.6 443.2h2.8M474.0 441.8v2.8M468.6 444.8h2.8M470.0 443.4v2.8M473.6 444.8h2.8M475.0 443.4v2.8M464.6 450.1h2.8M466.0 448.7v2.8M472.6 450.1h2.8M474.0 448.7v2.8M451.6 451.6h2.8M453.0 450.2v2.8M454.6 451.6h2.8M456.0 450.2v2.8M457.6 451.6h2.8M459.0 450.2v2.8M482.6 451.6h2.8M484.0 450.2v2.8M485.6 451.6h2.8M487.0 450.2v2.8M488.6 451.6h2.8M490.0 450.2v2.8M454.6 453.5h2.8M456.0 452.1v2.8M460.6 453.5h2.8M462.0 452.1v2.8M466.6 453.5h2.8M468.0 452.1v2.8M472.6 453.5h2.8M474.0 452.1v2.8M478.6 453.5h2.8M480.0 452.1v2.8M484.6 453.5h2.8M486.0 452.1v2.8M450.6 455.2h2.8M452.0 453.8v2.8M453.1 455.2h2.8M454.5 453.8v2.8M455.7 455.2h2.8M457.1 453.8v2.8M458.2 455.2h2.8M459.6 453.8v2.8M460.7 455.2h2.8M462.1 453.8v2.8M463.3 455.2h2.8M464.7 453.8v2.8M465.8 455.2h2.8M467.2 453.8v2.8M468.3 455.2h2.8M469.7 453.8v2.8M470.9 455.2h2.8M472.3 453.8v2.8M473.4 455.2h2.8M474.8 453.8v2.8M475.9 455.2h2.8M477.3 453.8v2.8M478.5 455.2h2.8M479.9 453.8v2.8M481.0 455.2h2.8M482.4 453.8v2.8M483.5 455.2h2.8M484.9 453.8v2.8M486.1 455.2h2.8M487.5 453.8v2.8M488.6 455.2h2.8M490.0 453.8v2.8M454.6 456.8h2.8M456.0 455.4v2.8M457.5 456.8h2.8M458.9 455.4v2.8M460.4 456.8h2.8M461.8 455.4v2.8M463.3 456.8h2.8M464.7 455.4v2.8M466.2 456.8h2.8M467.6 455.4v2.8M469.1 456.8h2.8M470.5 455.4v2.8M472.0 456.8h2.8M473.4 455.4v2.8M474.9 456.8h2.8M476.3 455.4v2.8M477.8 456.8h2.8M479.2 455.4v2.8M480.7 456.8h2.8M482.1 455.4v2.8M483.6 456.8h2.8M485.0 455.4v2.8M458.6 458.2h2.8M460.0 456.8v2.8M462.3 458.2h2.8M463.7 456.8v2.8M465.9 458.2h2.8M467.3 456.8v2.8M469.6 458.2h2.8M471.0 456.8v2.8M473.3 458.2h2.8M474.7 456.8v2.8M476.9 458.2h2.8M478.3 456.8v2.8M480.6 458.2h2.8M482.0 456.8v2.8M464.6 460.2h2.8M466.0 458.8v2.8M468.6 460.2h2.8M470.0 458.8v2.8M472.6 460.2h2.8M474.0 458.8v2.8M476.6 460.2h2.8M478.0 458.8v2.8M468.6 462.0h2.8M470.0 460.6v2.8" stroke="#cf5f7f" stroke-opacity="0.95" stroke-width="1.2"/>
<path d="M450.50 453.50H490.70" stroke="#111" stroke-width="1.9"/>
<path d="M471.15 447.30V459.40M461.10 447.30H481.20M461.10 459.40H481.20" stroke="#111" stroke-width="1.1"/>
<path d="M80.6 575.2h2.8M82.0 573.8v2.8M75.6 579.0h2.8M77.0 577.6v2.8M78.9 579.0h2.8M80.3 577.6v2.8M82.3 579.0h2.8M83.7 577.6v2.8M85.6 579.0h2.8M87.0 577.6v2.8" stroke="#6f88b8" stroke-opacity="0.95" stroke-width="1.2"/>
<path d="M67.4 581.1H97.3M60.8 583.7H103.7M59.7 586.3H103.5M60.2 588.9H103.5M60.5 591.5H104.0M60.2 594.1H104.2M60.3 596.7H103.6M60.1 599.3H104.2M60.7 601.9H103.4M61.4 604.5H103.6M65.4 607.1H98.7" stroke="#bcc8e2" stroke-width="2.4"/>
<g stroke="#6f88b8" stroke-opacity="0.95" stroke-width="1.4" stroke-dasharray="1.6 1.0"><path d="M67.4 581.1H97.3" stroke-dashoffset="0.5"/><path d="M60.8 583.7H103.7" stroke-dashoffset="1.4"/><path d="M59.7 586.3H103.5" stroke-dashoffset="1.4"/><path d="M60.2 588.9H103.5" stroke-dashoffset="1.6"/><path d="M60.5 591.5H104.0" stroke-dashoffset="0.1"/><path d="M60.2 594.1H104.2" stroke-dashoffset="2.6"/><path d="M60.3 596.7H103.6" stroke-dashoffset="1.4"/><path d="M60.1 599.3H104.2" stroke-dashoffset="1.1"/><path d="M60.7 601.9H103.4" stroke-dashoffset="2.2"/><path d="M61.4 604.5H103.6" stroke-dashoffset="1.5"/><path d="M65.4 607.1H98.7" stroke-dashoffset="1.3"/></g>
<path d="M61.30 594.90H103.20" stroke="#111" stroke-width="1.9"/>
<path d="M82.45 587.50V602.30M71.90 587.50H93.00M71.90 602.30H93.00" stroke="#111" stroke-width="1.1"/>
<path d="M139.6 569.5h2.8M141.0 568.1v2.8M142.6 569.5h2.8M144.0 568.1v2.8M145.6 569.5h2.8M147.0 568.1v2.8M136.6 572.5h2.8M138.0 571.1v2.8M139.6 572.5h2.8M141.0 571.1v2.8M142.6 572.5h2.8M144.0 571.1v2.8M145.6 572.5h2.8M147.0 571.1v2.8M148.6 572.5h2.8M150.0 571.1v2.8M131.6 575.0h2.8M133.0 573.6v2.8M134.3 575.0h2.8M135.8 573.6v2.8M137.1 575.0h2.8M138.5 573.6v2.8M139.8 575.0h2.8M141.2 573.6v2.8M142.6 575.0h2.8M144.0 573.6v2.8M145.3 575.0h2.8M146.8 573.6v2.8M148.1 575.0h2.8M149.5 573.6v2.8M150.8 575.0h2.8M152.2 573.6v2.8M153.6 575.0h2.8M155.0 573.6v2.8" stroke="#cf5f7f" stroke-opacity="0.95" stroke-width="1.2"/>
<path d="M125.4 577.5H162.3M122.3 580.1H165.6M123.4 582.7H165.3M122.6 585.3H164.8M122.5 587.9H164.7M123.3 590.5H165.3M122.9 593.1H164.6M122.5 595.7H164.9M123.4 598.3H164.4M123.8 600.9H163.8M126.8 603.5H160.5M131.8 606.1H156.2" stroke="#e9adbe" stroke-width="2.4"/>
<g stroke="#cf5f7f" stroke-opacity="0.95" stroke-width="1.4" stroke-dasharray="1.6 1.0"><path d="M125.4 577.5H162.3" stroke-dashoffset="1.0"/><path d="M122.3 580.1H165.6" stroke-dashoffset="1.7"/><path d="M123.4 582.7H165.3" stroke-dashoffset="0.3"/><path d="M122.6 585.3H164.8" stroke-dashoffset="2.0"/><path d="M122.5 587.9H164.7" stroke-dashoffset="0.3"/><path d="M123.3 590.5H165.3" stroke-dashoffset="1.4"/><path d="M122.9 593.1H164.6" stroke-dashoffset="0.7"/><path d="M122.5 595.7H164.9" stroke-dashoffset="0.5"/><path d="M123.4 598.3H164.4" stroke-dashoffset="1.4"/><path d="M123.8 600.9H163.8" stroke-dashoffset="1.2"/><path d="M126.8 603.5H160.5" stroke-dashoffset="1.0"/><path d="M131.8 606.1H156.2" stroke-dashoffset="1.1"/></g>
<path d="M123.70 590.70H165.00" stroke="#111" stroke-width="1.9"/>
<path d="M144.10 582.20V599.10M134.30 582.20H153.90M134.30 599.10H153.90" stroke="#111" stroke-width="1.1"/>
<path d="M243.0 570.6h0M246.5 570.6h0M250.0 570.6h0M244.0 575.0h0M248.0 575.0h0M244.0 578.0h0M249.0 578.0h0M240.0 581.5h0M243.5 581.5h0M247.0 581.5h0M250.5 581.5h0M254.0 581.5h0M235.0 583.5h0M238.2 583.5h0M241.3 583.5h0M244.5 583.5h0M247.7 583.5h0M250.8 583.5h0M254.0 583.5h0M232.0 586.0h0M234.9 586.0h0M237.8 586.0h0M240.7 586.0h0M243.6 586.0h0M246.4 586.0h0M249.3 586.0h0M252.2 586.0h0M255.1 586.0h0M258.0 586.0h0M230.0 588.4h0M232.9 588.4h0M235.8 588.4h0M238.7 588.4h0M241.6 588.4h0M244.5 588.4h0M247.5 588.4h0M250.4 588.4h0M253.3 588.4h0M256.2 588.4h0M259.1 588.4h0M262.0 588.4h0M227.0 590.8h0M229.9 590.8h0M232.8 590.8h0M235.8 590.8h0M238.7 590.8h0M241.6 590.8h0M244.5 590.8h0M247.5 590.8h0M250.4 590.8h0M253.3 590.8h0M256.2 590.8h0M259.2 590.8h0M262.1 590.8h0M265.0 590.8h0M224.0 593.2h0M227.0 593.2h0M230.0 593.2h0M233.0 593.2h0M236.0 593.2h0M239.0 593.2h0M242.0 593.2h0M245.0 593.2h0M248.0 593.2h0M251.0 593.2h0M254.0 593.2h0M257.0 593.2h0M260.0 593.2h0M263.0 593.2h0M266.0 593.2h0M225.0 595.6h0M227.9 595.6h0M230.9 595.6h0M233.8 595.6h0M236.7 595.6h0M239.6 595.6h0M242.6 595.6h0M245.5 595.6h0M248.4 595.6h0M251.4 595.6h0M254.3 595.6h0M257.2 595.6h0M260.1 595.6h0M263.1 595.6h0M266.0 595.6h0M227.0 598.0h0M230.0 598.0h0M233.0 598.0h0M236.0 598.0h0M239.0 598.0h0M242.0 598.0h0M245.0 598.0h0M248.0 598.0h0M251.0 598.0h0M254.0 598.0h0M257.0 598.0h0M260.0 598.0h0M263.0 598.0h0M266.0 598.0h0M230.0 600.4h0M232.9 600.4h0M235.8 600.4h0M238.7 600.4h0M241.6 600.4h0M244.5 600.4h0M247.5 600.4h0M250.4 600.4h0M253.3 600.4h0M256.2 600.4h0M259.1 600.4h0M262.0 600.4h0M232.0 602.8h0M234.9 602.8h0M237.8 602.8h0M240.7 602.8h0M243.6 602.8h0M246.4 602.8h0M249.3 602.8h0M252.2 602.8h0M255.1 602.8h0M258.0 602.8h0M235.0 605.2h0M238.3 605.2h0M241.6 605.2h0M244.9 605.2h0M248.1 605.2h0M251.4 605.2h0M254.7 605.2h0M258.0 605.2h0M240.0 607.5h0M244.0 607.5h0M248.0 607.5h0M252.0 607.5h0" stroke="#6f88b8" stroke-opacity="0.9" stroke-width="1.8" stroke-linecap="round"/>
<path d="M243.0 570.6h0M246.5 570.6h0M250.0 570.6h0M244.0 575.0h0M248.0 575.0h0M244.0 578.0h0M249.0 578.0h0M240.0 581.5h0M243.5 581.5h0M247.0 581.5h0M250.5 581.5h0M254.0 581.5h0M235.0 583.5h0M238.2 583.5h0M241.3 583.5h0M244.5 583.5h0M247.7 583.5h0M250.8 583.5h0M254.0 583.5h0M232.0 586.0h0M234.9 586.0h0M237.8 586.0h0M240.7 586.0h0M243.6 586.0h0M246.4 586.0h0M249.3 586.0h0M252.2 586.0h0M255.1 586.0h0M258.0 586.0h0M230.0 588.4h0M232.9 588.4h0M235.8 588.4h0M238.7 588.4h0M241.6 588.4h0M244.5 588.4h0M247.5 588.4h0M250.4 588.4h0M253.3 588.4h0M256.2 588.4h0M259.1 588.4h0M262.0 588.4h0M227.0 590.8h0M229.9 590.8h0M232.8 590.8h0M235.8 590.8h0M238.7 590.8h0M241.6 590.8h0M244.5 590.8h0M247.5 590.8h0M250.4 590.8h0M253.3 590.8h0M256.2 590.8h0M259.2 590.8h0M262.1 590.8h0M265.0 590.8h0M224.0 593.2h0M227.0 593.2h0M230.0 593.2h0M233.0 593.2h0M236.0 593.2h0M239.0 593.2h0M242.0 593.2h0M245.0 593.2h0M248.0 593.2h0M251.0 593.2h0M254.0 593.2h0M257.0 593.2h0M260.0 593.2h0M263.0 593.2h0M266.0 593.2h0M225.0 595.6h0M227.9 595.6h0M230.9 595.6h0M233.8 595.6h0M236.7 595.6h0M239.6 595.6h0M242.6 595.6h0M245.5 595.6h0M248.4 595.6h0M251.4 595.6h0M254.3 595.6h0M257.2 595.6h0M260.1 595.6h0M263.1 595.6h0M266.0 595.6h0M227.0 598.0h0M230.0 598.0h0M233.0 598.0h0M236.0 598.0h0M239.0 598.0h0M242.0 598.0h0M245.0 598.0h0M248.0 598.0h0M251.0 598.0h0M254.0 598.0h0M257.0 598.0h0M260.0 598.0h0M263.0 598.0h0M266.0 598.0h0M230.0 600.4h0M232.9 600.4h0M235.8 600.4h0M238.7 600.4h0M241.6 600.4h0M244.5 600.4h0M247.5 600.4h0M250.4 600.4h0M253.3 600.4h0M256.2 600.4h0M259.1 600.4h0M262.0 600.4h0M232.0 602.8h0M234.9 602.8h0M237.8 602.8h0M240.7 602.8h0M243.6 602.8h0M246.4 602.8h0M249.3 602.8h0M252.2 602.8h0M255.1 602.8h0M258.0 602.8h0M235.0 605.2h0M238.3 605.2h0M241.6 605.2h0M244.9 605.2h0M248.1 605.2h0M251.4 605.2h0M254.7 605.2h0M258.0 605.2h0M240.0 607.5h0M244.0 607.5h0M248.0 607.5h0M252.0 607.5h0" stroke="#bcc8e2" stroke-width="1.0" stroke-linecap="round"/>
<path d="M224.20 594.90H266.90" stroke="#111" stroke-width="1.9"/>
<path d="M246.10 587.10V602.90M235.20 587.10H257.00M235.20 602.90H257.00" stroke="#111" stroke-width="1.1"/>
<path d="M307.6 567.4h2.8M309.0 566.0v2.8M311.6 567.4h2.8M313.0 566.0v2.8M303.6 570.0h2.8M305.0 568.6v2.8M306.9 570.0h2.8M308.3 568.6v2.8M310.3 570.0h2.8M311.7 568.6v2.8M313.6 570.0h2.8M315.0 568.6v2.8M298.6 572.5h2.8M300.0 571.1v2.8M301.4 572.5h2.8M302.8 571.1v2.8M304.1 572.5h2.8M305.5 571.1v2.8M306.9 572.5h2.8M308.2 571.1v2.8M309.6 572.5h2.8M311.0 571.1v2.8M312.4 572.5h2.8M313.8 571.1v2.8M315.1 572.5h2.8M316.5 571.1v2.8M317.9 572.5h2.8M319.2 571.1v2.8M320.6 572.5h2.8M322.0 571.1v2.8" stroke="#cf5f7f" stroke-opacity="0.95" stroke-width="1.2"/>
<path d="M289.2 575.0H333.4M288.8 577.6H334.0M289.4 580.2H333.8M289.6 582.8H333.9M289.6 585.4H333.5M289.5 588.0H334.2M289.7 590.6H333.6M289.0 593.2H334.3M288.9 595.8H334.4M289.7 598.4H333.4M288.9 601.0H334.1M290.5 603.6H330.9M294.2 606.2H328.9" stroke="#e9adbe" stroke-width="2.4"/>
<g stroke="#cf5f7f" stroke-opacity="0.95" stroke-width="1.4" stroke-dasharray="1.6 1.0"><path d="M289.2 575.0H333.4" stroke-dashoffset="2.1"/><path d="M288.8 577.6H334.0" stroke-dashoffset="0.3"/><path d="M289.4 580.2H333.8" stroke-dashoffset="1.1"/><path d="M289.6 582.8H333.9" stroke-dashoffset="1.9"/><path d="M289.6 585.4H333.5" stroke-dashoffset="0.0"/><path d="M289.5 588.0H334.2" stroke-dashoffset="0.5"/><path d="M289.7 590.6H333.6" stroke-dashoffset="1.8"/><path d="M289.0 593.2H334.3" stroke-dashoffset="2.5"/><path d="M288.9 595.8H334.4" stroke-dashoffset="2.6"/><path d="M289.7 598.4H333.4" stroke-dashoffset="0.3"/><path d="M288.9 601.0H334.1" stroke-dashoffset="1.4"/><path d="M290.5 603.6H330.9" stroke-dashoffset="2.0"/><path d="M294.2 606.2H328.9" stroke-dashoffset="1.4"/></g>
<path d="M289.80 590.00H332.00" stroke="#111" stroke-width="1.9"/>
<path d="M310.90 580.70V598.50M300.30 580.70H321.50M300.30 598.50H321.50" stroke="#111" stroke-width="1.1"/>
<path d="M414.0 568.9h0M411.0 571.6h0M414.5 571.6h0M418.0 571.6h0M406.0 576.9h0M410.0 576.9h0M414.0 576.9h0M418.0 576.9h0M422.0 576.9h0M408.0 579.1h0M412.3 579.1h0M416.7 579.1h0M421.0 579.1h0M418.0 580.3h0M424.0 580.3h0M400.0 582.5h0M403.0 582.5h0M426.0 582.5h0M430.0 582.5h0M394.0 585.1h0M396.6 585.1h0M399.2 585.1h0M401.9 585.1h0M404.5 585.1h0M407.1 585.1h0M409.8 585.1h0M412.4 585.1h0M415.0 585.1h0M417.6 585.1h0M420.2 585.1h0M422.9 585.1h0M425.5 585.1h0M428.1 585.1h0M430.8 585.1h0M433.4 585.1h0M436.0 585.1h0M393.5 587.6h0M396.0 587.6h0M398.6 587.6h0M401.1 587.6h0M403.6 587.6h0M406.1 587.6h0M408.7 587.6h0M411.2 587.6h0M413.7 587.6h0M416.3 587.6h0M418.8 587.6h0M421.3 587.6h0M423.9 587.6h0M426.4 587.6h0M428.9 587.6h0M431.4 587.6h0M434.0 587.6h0M436.5 587.6h0M393.0 590.1h0M395.6 590.1h0M398.2 590.1h0M400.8 590.1h0M403.4 590.1h0M405.9 590.1h0M408.5 590.1h0M411.1 590.1h0M413.7 590.1h0M416.3 590.1h0M418.9 590.1h0M421.5 590.1h0M424.1 590.1h0M426.6 590.1h0M429.2 590.1h0M431.8 590.1h0M434.4 590.1h0M437.0 590.1h0M393.0 592.6h0M395.6 592.6h0M398.2 592.6h0M400.8 592.6h0M403.4 592.6h0M405.9 592.6h0M408.5 592.6h0M411.1 592.6h0M413.7 592.6h0M416.3 592.6h0M418.9 592.6h0M421.5 592.6h0M424.1 592.6h0M426.6 592.6h0M429.2 592.6h0M431.8 592.6h0M434.4 592.6h0M437.0 592.6h0M393.0 595.1h0M395.6 595.1h0M398.2 595.1h0M400.8 595.1h0M403.4 595.1h0M405.9 595.1h0M408.5 595.1h0M411.1 595.1h0M413.7 595.1h0M416.3 595.1h0M418.9 595.1h0M421.5 595.1h0M424.1 595.1h0M426.6 595.1h0M429.2 595.1h0M431.8 595.1h0M434.4 595.1h0M437.0 595.1h0M393.5 597.6h0M396.0 597.6h0M398.6 597.6h0M401.1 597.6h0M403.6 597.6h0M406.1 597.6h0M408.7 597.6h0M411.2 597.6h0M413.7 597.6h0M416.3 597.6h0M418.8 597.6h0M421.3 597.6h0M423.9 597.6h0M426.4 597.6h0M428.9 597.6h0M431.4 597.6h0M434.0 597.6h0M436.5 597.6h0M395.0 600.1h0M397.6 600.1h0M400.2 600.1h0M402.8 600.1h0M405.4 600.1h0M408.0 600.1h0M410.6 600.1h0M413.2 600.1h0M415.8 600.1h0M418.4 600.1h0M421.0 600.1h0M423.6 600.1h0M426.2 600.1h0M428.8 600.1h0M431.4 600.1h0M434.0 600.1h0M398.0 602.4h0M400.6 602.4h0M403.2 602.4h0M405.8 602.4h0M408.5 602.4h0M411.1 602.4h0M413.7 602.4h0M416.3 602.4h0M418.9 602.4h0M421.5 602.4h0M424.2 602.4h0M426.8 602.4h0M429.4 602.4h0M432.0 602.4h0M400.0 604.3h0M402.5 604.3h0M405.0 604.3h0M407.5 604.3h0M410.0 604.3h0M412.5 604.3h0M415.0 604.3h0M417.5 604.3h0M420.0 604.3h0M422.5 604.3h0M425.0 604.3h0M427.5 604.3h0M430.0 604.3h0M405.0 605.9h0M408.3 605.9h0M411.7 605.9h0M415.0 605.9h0M418.3 605.9h0M421.7 605.9h0M425.0 605.9h0M410.0 607.3h0M413.3 607.3h0M416.7 607.3h0M420.0 607.3h0" stroke="#6f88b8" stroke-opacity="0.9" stroke-width="1.8" stroke-linecap="round"/>
<path d="M414.0 568.9h0M411.0 571.6h0M414.5 571.6h0M418.0 571.6h0M406.0 576.9h0M410.0 576.9h0M414.0 576.9h0M418.0 576.9h0M422.0 576.9h0M408.0 579.1h0M412.3 579.1h0M416.7 579.1h0M421.0 579.1h0M418.0 580.3h0M424.0 580.3h0M400.0 582.5h0M403.0 582.5h0M426.0 582.5h0M430.0 582.5h0M394.0 585.1h0M396.6 585.1h0M399.2 585.1h0M401.9 585.1h0M404.5 585.1h0M407.1 585.1h0M409.8 585.1h0M412.4 585.1h0M415.0 585.1h0M417.6 585.1h0M420.2 585.1h0M422.9 585.1h0M425.5 585.1h0M428.1 585.1h0M430.8 585.1h0M433.4 585.1h0M436.0 585.1h0M393.5 587.6h0M396.0 587.6h0M398.6 587.6h0M401.1 587.6h0M403.6 587.6h0M406.1 587.6h0M408.7 587.6h0M411.2 587.6h0M413.7 587.6h0M416.3 587.6h0M418.8 587.6h0M421.3 587.6h0M423.9 587.6h0M426.4 587.6h0M428.9 587.6h0M431.4 587.6h0M434.0 587.6h0M436.5 587.6h0M393.0 590.1h0M395.6 590.1h0M398.2 590.1h0M400.8 590.1h0M403.4 590.1h0M405.9 590.1h0M408.5 590.1h0M411.1 590.1h0M413.7 590.1h0M416.3 590.1h0M418.9 590.1h0M421.5 590.1h0M424.1 590.1h0M426.6 590.1h0M429.2 590.1h0M431.8 590.1h0M434.4 590.1h0M437.0 590.1h0M393.0 592.6h0M395.6 592.6h0M398.2 592.6h0M400.8 592.6h0M403.4 592.6h0M405.9 592.6h0M408.5 592.6h0M411.1 592.6h0M413.7 592.6h0M416.3 592.6h0M418.9 592.6h0M421.5 592.6h0M424.1 592.6h0M426.6 592.6h0M429.2 592.6h0M431.8 592.6h0M434.4 592.6h0M437.0 592.6h0M393.0 595.1h0M395.6 595.1h0M398.2 595.1h0M400.8 595.1h0M403.4 595.1h0M405.9 595.1h0M408.5 595.1h0M411.1 595.1h0M413.7 595.1h0M416.3 595.1h0M418.9 595.1h0M421.5 595.1h0M424.1 595.1h0M426.6 595.1h0M429.2 595.1h0M431.8 595.1h0M434.4 595.1h0M437.0 595.1h0M393.5 597.6h0M396.0 597.6h0M398.6 597.6h0M401.1 597.6h0M403.6 597.6h0M406.1 597.6h0M408.7 597.6h0M411.2 597.6h0M413.7 597.6h0M416.3 597.6h0M418.8 597.6h0M421.3 597.6h0M423.9 597.6h0M426.4 597.6h0M428.9 597.6h0M431.4 597.6h0M434.0 597.6h0M436.5 597.6h0M395.0 600.1h0M397.6 600.1h0M400.2 600.1h0M402.8 600.1h0M405.4 600.1h0M408.0 600.1h0M410.6 600.1h0M413.2 600.1h0M415.8 600.1h0M418.4 600.1h0M421.0 600.1h0M423.6 600.1h0M426.2 600.1h0M428.8 600.1h0M431.4 600.1h0M434.0 600.1h0M398.0 602.4h0M400.6 602.4h0M403.2 602.4h0M405.8 602.4h0M408.5 602.4h0M411.1 602.4h0M413.7 602.4h0M416.3 602.4h0M418.9 602.4h0M421.5 602.4h0M424.2 602.4h0M426.8 602.4h0M429.4 602.4h0M432.0 602.4h0M400.0 604.3h0M402.5 604.3h0M405.0 604.3h0M407.5 604.3h0M410.0 604.3h0M412.5 604.3h0M415.0 604.3h0M417.5 604.3h0M420.0 604.3h0M422.5 604.3h0M425.0 604.3h0M427.5 604.3h0M430.0 604.3h0M405.0 605.9h0M408.3 605.9h0M411.7 605.9h0M415.0 605.9h0M418.3 605.9h0M421.7 605.9h0M425.0 605.9h0M410.0 607.3h0M413.3 607.3h0M416.7 607.3h0M420.0 607.3h0" stroke="#bcc8e2" stroke-width="1.0" stroke-linecap="round"/>
<path d="M393.20 592.30H436.50" stroke="#111" stroke-width="1.9"/>
<path d="M414.85 583.30V601.20M403.70 583.30H426.00M403.70 601.20H426.00" stroke="#111" stroke-width="1.1"/>
<path d="M476.6 568.0h2.8M478.0 566.6v2.8M474.6 570.5h2.8M476.0 569.1v2.8M479.6 570.5h2.8M481.0 569.1v2.8M464.6 573.5h2.8M466.0 572.1v2.8M467.7 573.5h2.8M469.1 572.1v2.8M470.8 573.5h2.8M472.2 572.1v2.8M473.9 573.5h2.8M475.3 572.1v2.8M477.0 573.5h2.8M478.4 572.1v2.8M480.2 573.5h2.8M481.6 572.1v2.8M483.3 573.5h2.8M484.7 572.1v2.8M486.4 573.5h2.8M487.8 572.1v2.8M489.5 573.5h2.8M490.9 572.1v2.8M492.6 573.5h2.8M494.0 572.1v2.8" stroke="#cf5f7f" stroke-opacity="0.95" stroke-width="1.2"/>
<path d="M458.4 576.0H500.4M456.7 578.6H499.3M456.6 581.2H499.9M457.2 583.8H499.9M456.8 586.4H499.4M456.8 589.0H500.2M457.8 591.6H500.3M456.7 594.2H499.3M457.7 596.8H499.8M457.5 599.4H499.6M459.6 602.0H499.0M464.3 604.6H496.4M468.1 607.2H490.8" stroke="#e9adbe" stroke-width="2.4"/>
<g stroke="#cf5f7f" stroke-opacity="0.95" stroke-width="1.4" stroke-dasharray="1.6 1.0"><path d="M458.4 576.0H500.4" stroke-dashoffset="2.3"/><path d="M456.7 578.6H499.3" stroke-dashoffset="0.5"/><path d="M456.6 581.2H499.9" stroke-dashoffset="1.2"/><path d="M457.2 583.8H499.9" stroke-dashoffset="2.0"/><path d="M456.8 586.4H499.4" stroke-dashoffset="1.1"/><path d="M456.8 589.0H500.2" stroke-dashoffset="0.5"/><path d="M457.8 591.6H500.3" stroke-dashoffset="0.4"/><path d="M456.7 594.2H499.3" stroke-dashoffset="1.4"/><path d="M457.7 596.8H499.8" stroke-dashoffset="0.0"/><path d="M457.5 599.4H499.6" stroke-dashoffset="2.4"/><path d="M459.6 602.0H499.0" stroke-dashoffset="2.2"/><path d="M464.3 604.6H496.4" stroke-dashoffset="1.9"/><path d="M468.1 607.2H490.8" stroke-dashoffset="2.3"/></g>
<path d="M458.00 589.60H500.50" stroke="#111" stroke-width="1.9"/>
<path d="M479.85 580.70V598.70M470.30 580.70H489.40M470.30 598.70H489.40" stroke="#111" stroke-width="1.1"/>
</svg></body></html>
